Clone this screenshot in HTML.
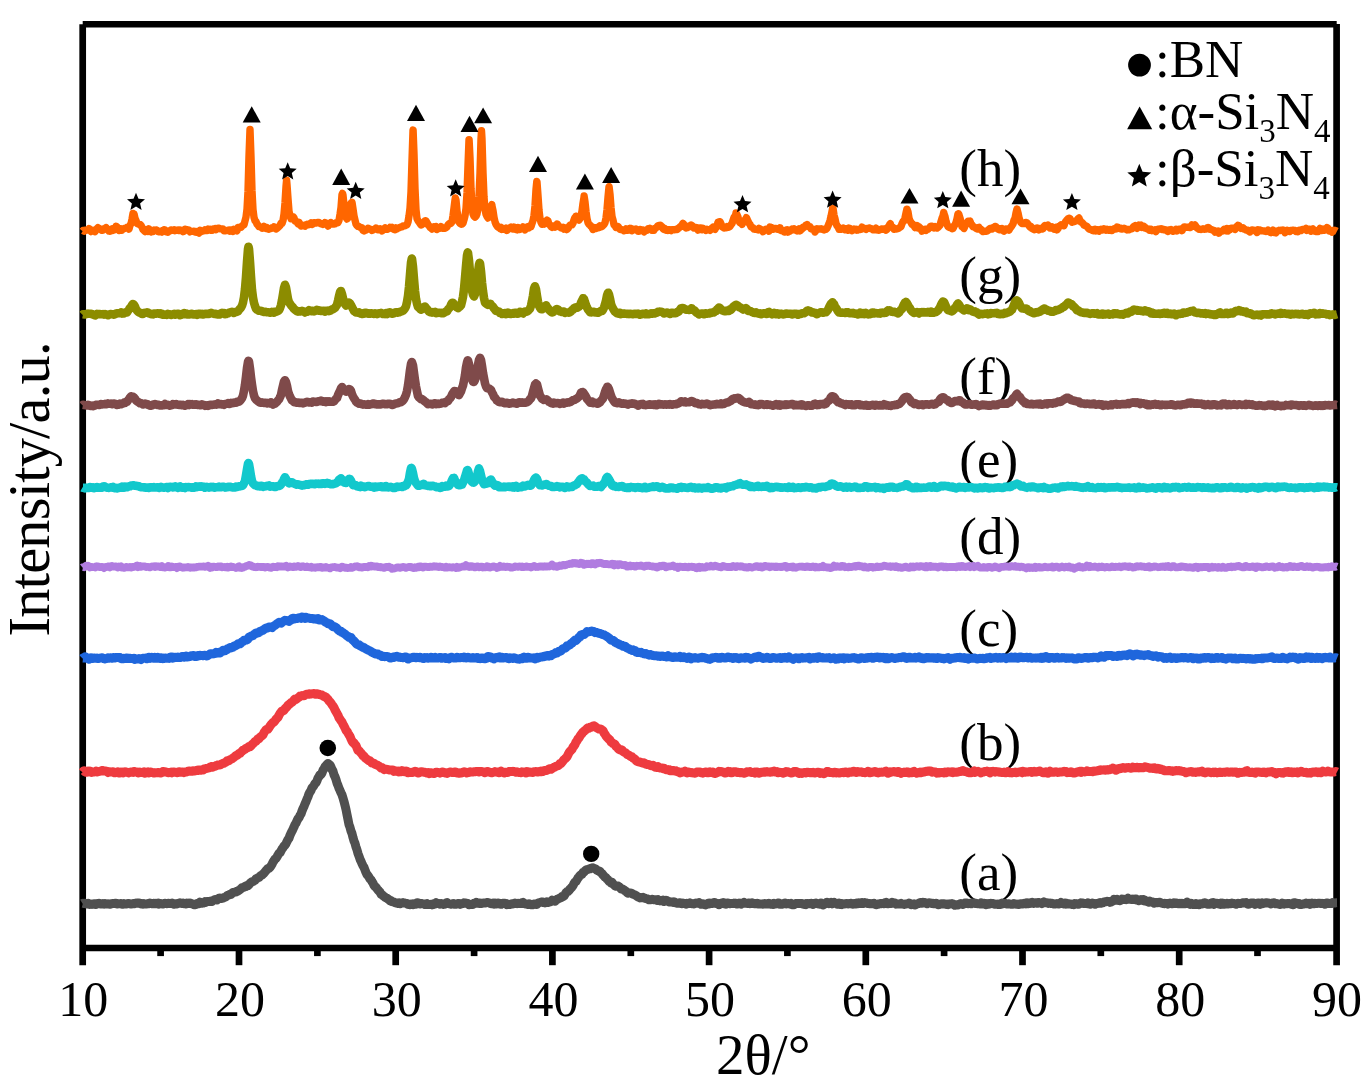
<!DOCTYPE html>
<html><head><meta charset="utf-8"><style>
html,body{margin:0;padding:0;background:#fff;}
svg{display:block;}
text{font-family:"Liberation Serif",serif;fill:#000;}
</style></head><body>
<svg width="1372" height="1086" viewBox="0 0 1372 1086">
<rect width="1372" height="1086" fill="#fff"/>
<g font-size="53"><text x="959.3" y="185.8">(h)</text><text x="959.3" y="292.9">(g)</text><text x="959.3" y="393.9">(f)</text><text x="959.3" y="476.8">(e)</text><text x="959.3" y="553.5">(d)</text><text x="959.3" y="646.3">(c)</text><text x="959.3" y="759.8">(b)</text><text x="959.3" y="889.6">(a)</text></g>

<g stroke="#000" stroke-width="6.7" fill="none" stroke-linecap="butt">
<line x1="82.7" y1="24.3" x2="82.7" y2="965.2"/>
<line x1="1336.6" y1="24.1" x2="1336.6" y2="965.2"/>
<line x1="82.7" y1="24.25" x2="1336.7" y2="24.25"/>
<line x1="82.7" y1="948" x2="1336.6" y2="948"/>
<line x1="160.6" y1="948" x2="160.6" y2="956.1"/><line x1="239.0" y1="948" x2="239.0" y2="965.2"/><line x1="317.4" y1="948" x2="317.4" y2="956.1"/><line x1="395.7" y1="948" x2="395.7" y2="965.2"/><line x1="474.1" y1="948" x2="474.1" y2="956.1"/><line x1="552.4" y1="948" x2="552.4" y2="965.2"/><line x1="630.8" y1="948" x2="630.8" y2="956.1"/><line x1="709.1" y1="948" x2="709.1" y2="965.2"/><line x1="787.4" y1="948" x2="787.4" y2="956.1"/><line x1="865.8" y1="948" x2="865.8" y2="965.2"/><line x1="944.1" y1="948" x2="944.1" y2="956.1"/><line x1="1022.5" y1="948" x2="1022.5" y2="965.2"/><line x1="1100.8" y1="948" x2="1100.8" y2="956.1"/><line x1="1179.2" y1="948" x2="1179.2" y2="965.2"/><line x1="1257.5" y1="948" x2="1257.5" y2="956.1"/>
</g>
<g fill="none" stroke-width="8" stroke-linejoin="round" stroke-linecap="butt">
<path d="M82.5 231.2 83 230.6 84 231.2 85 230.1 86 230.2 87 230.1 88 230.1 89 228.6 90 229.7 91 231.5 92 230.6 93 230.2 94 230.6 95 231.6 96 230.2 97 228.7 98 227.7 99 228.4 100 228.7 101 229.7 102 230.4 103 230.2 104 228.8 105 228.4 106 227.6 107 228.7 108 229.6 109 231.1 110 231.2 111 229.6 112 228.8 113 230.4 114 228.8 115 229.5 116 226.2 117 227.0 118 228.7 119 230.5 120 230.1 121 229.0 122 230.2 123 228.8 124 228.8 125 228.1 126 228.1 127 227.3 128 227.3 129 229.1 130 225.4 131 223.7 132 219.2 133 213.5 133.6 214.0 134 213.9 135 218.3 136 220.5 137 223.4 138 223.9 139 224.3 140 224.4 141 225.4 142 227.2 143 229.6 144 230.5 145 231.6 146 230.0 147 231.2 148 231.5 149 228.9 150 230.0 151 231.9 152 230.8 153 231.4 154 230.1 155 230.5 156 229.9 157 230.2 158 231.5 159 231.9 160 231.5 161 231.0 162 232.0 163 230.6 164 229.8 165 229.9 166 231.6 167 231.0 168 232.2 169 231.2 170 230.9 171 229.9 172 230.1 173 230.4 174 229.8 175 230.7 176 230.2 177 230.4 178 230.0 179 230.6 180 230.0 181 230.4 182 230.4 183 231.6 184 231.1 185 229.3 186 229.4 187 229.9 188 230.0 189 230.2 190 231.8 191 231.3 192 231.4 193 231.4 194 231.2 195 231.9 196 231.5 197 232.3 198 231.9 199 233.0 200 230.2 201 231.6 202 231.3 203 230.7 204 230.7 205 229.8 206 230.1 207 230.5 208 229.1 209 230.0 210 229.3 211 230.3 212 230.4 213 228.9 214 229.2 215 228.5 216 229.7 217 228.8 218 228.1 219 228.2 220 228.8 221 228.9 222 228.9 223 228.9 224 230.9 225 230.8 226 230.6 227 230.5 228 230.3 229 229.9 230 231.1 231 230.0 232 230.1 233 231.3 234 229.3 235 230.2 236 230.0 237 230.8 238 227.5 239 227.8 240 227.1 241 227.3 242 226.1 243 225.2 244 224.8 245 220.8 246 217.1 247 209.1 248 191.2 249 155.9 250 129.4 251 156.9 252 190.7 253 209.4 254 217.4 255 220.7 256 221.6 257 224.1 258 225.1 259 226.6 260 226.7 261 227.0 262 228.2 263 228.1 264 226.5 265 227.6 266 228.4 267 227.7 268 229.1 269 229.2 270 228.6 271 228.6 272 227.7 273 228.0 274 226.8 275 227.5 276 229.0 277 228.4 278 227.4 279 226.5 280 225.6 281 223.3 282 223.4 283 220.6 284 214.1 285 202.8 286 186.7 286.6 180.1 287 184.6 288 198.4 289 211.3 290 215.4 291 218.8 292 217.9 293 217.5 293.5 217.2 294 217.8 295 221.0 296 221.4 297 222.0 298 223.9 299 222.4 300 224.1 301 225.9 302 225.0 303 225.7 304 225.4 305 226.2 306 224.9 307 224.3 308 224.9 309 224.7 310 223.8 311 223.0 312 224.5 313 224.0 314 222.7 315 222.7 316 223.0 317 222.6 318 222.4 319 222.4 320 223.3 321 223.7 322 223.7 323 224.4 324 223.8 325 222.6 326 223.1 327 224.2 328 226.1 329 223.5 330 223.8 331 222.7 332 224.0 333 224.0 334 224.0 335 223.9 336 222.7 337 222.6 338 222.7 339 220.3 340 214.4 341 207.5 342 194.6 342.5 193.4 343 195.1 344 205.0 345 212.6 346 217.5 347 219.0 348 217.8 349 214.7 350 210.1 351 203.1 351.8 202.8 352 202.2 353 208.7 354 215.7 355 220.1 356 224.1 357 225.5 358 226.4 359 226.4 360 227.3 361 227.6 362 227.9 363 230.3 364 230.9 365 230.2 366 230.2 367 229.2 368 228.3 369 228.7 370 229.3 371 229.4 372 230.5 373 230.0 374 229.5 375 228.9 376 228.0 377 228.6 378 229.8 379 229.4 380 228.8 381 229.7 382 230.9 383 230.0 384 228.8 385 228.0 386 229.1 387 229.4 388 228.7 389 228.5 390 227.4 391 228.0 392 227.4 393 228.7 394 229.4 395 229.7 396 227.8 397 228.9 398 228.1 399 227.8 400 227.4 401 227.0 402 226.9 403 225.9 404 225.9 405 225.9 406 225.1 407 224.7 408 222.0 409 216.2 410 208.2 411 191.6 412 160.2 413 130.6 413.1 130.1 414 153.7 415 188.4 416 209.7 417 218.7 418 220.7 419 222.1 420 223.4 421 224.9 422 224.6 423 223.7 424 222.6 425 220.8 425.6 220.7 426 221.0 427 222.6 428 224.7 429 225.8 430 227.3 431 228.1 432 229.0 433 227.9 434 226.8 435 227.5 436 226.6 437 229.4 438 228.8 439 228.1 440 228.3 441 226.7 442 227.9 443 228.4 444 228.1 445 228.3 446 227.6 447 226.8 448 224.9 449 223.9 450 223.1 451 223.4 452 221.8 453 215.5 454 208.1 455 200.0 455.3 198.0 456 200.0 457 210.9 458 217.0 459 222.0 460 223.4 461 224.2 462 224.1 463 223.1 464 219.8 465 215.8 466 208.6 467 192.9 468 165.3 469 139.6 469.1 139.6 470 157.8 471 188.6 472 204.8 473 214.0 474 216.2 475 217.2 476 216.1 477 213.9 478 208.4 479 197.0 480 173.0 481 138.9 481.5 130.7 482 139.0 483 172.4 484 196.8 485 209.5 486 214.3 487 216.5 488 218.0 489 216.2 490 213.3 491 206.6 491.9 204.7 492 206.0 493 210.6 494 217.4 495 221.8 496 224.4 497 225.9 498 227.2 499 227.2 500 228.5 501 227.3 502 229.5 503 228.9 504 229.1 505 229.4 506 228.2 507 230.4 508 229.0 509 228.4 510 227.9 511 227.1 512 228.9 513 229.0 514 227.1 515 228.2 516 229.5 517 229.9 518 227.5 519 227.9 520 229.4 521 228.3 522 228.5 523 226.9 524 228.6 525 229.8 526 228.5 527 227.0 528 226.5 529 227.8 530 226.5 531 226.7 532 223.5 533 220.6 534 215.5 535 205.8 536 189.5 536.8 181.4 537 182.0 538 195.6 539 210.3 540 218.5 541 222.3 542 224.2 543 223.2 544 224.1 545 223.3 546 221.6 547 220.2 548 221.0 549 224.5 550 225.0 551 226.6 552 227.3 553 226.0 554 225.8 555 227.1 556 225.5 557 225.5 557.3 224.1 558 225.2 559 226.8 560 227.0 561 227.8 562 228.0 563 227.4 564 229.0 565 227.8 566 228.0 567 229.5 568 228.5 569 226.5 570 225.2 571 224.6 572 224.8 573 223.1 574 219.9 575 217.4 575.9 216.6 576 216.2 577 216.6 578 218.8 579 220.1 580 218.5 581 216.1 582 210.9 583 203.3 584 197.3 584.1 196.0 585 201.9 586 211.5 587 218.5 588 222.7 589 224.3 590 225.1 591 226.4 592 227.2 593 229.5 594 227.6 595 227.9 596 228.5 597 227.5 598 227.8 599 227.6 600 225.8 601 226.9 602 226.4 603 225.5 604 224.6 605 222.7 606 218.0 607 209.6 608 197.4 609 186.8 609.1 186.7 610 194.1 611 207.3 612 216.5 613 220.0 614 224.8 615 225.6 616 227.5 617 226.7 618 226.5 619 227.9 620 229.3 621 229.5 622 229.6 623 230.2 624 230.8 625 230.5 626 229.0 627 230.2 628 230.3 629 228.8 630 228.3 631 228.5 632 230.6 633 229.8 634 229.2 635 229.7 636 229.0 637 229.7 638 231.3 639 231.3 640 229.5 641 229.6 642 230.5 643 230.0 644 231.9 645 230.5 646 230.3 647 230.2 648 228.7 649 229.1 650 228.3 651 228.9 652 230.3 653 229.9 654 230.2 655 228.1 656 228.0 657 226.8 658 225.6 659 225.5 660 225.9 660.7 225.3 661 226.6 662 226.6 663 228.7 664 229.4 665 228.7 666 230.1 667 229.5 668 230.4 669 229.8 670 229.7 671 230.6 672 229.6 673 229.8 674 229.8 675 229.8 676 229.3 677 229.6 678 228.6 679 228.0 680 226.8 681 226.7 682 224.9 683 223.3 683.4 223.8 684 224.6 685 225.4 686 228.0 687 227.7 688 227.3 689 226.9 690 225.7 691 225.0 692 225.8 692.2 225.7 693 226.6 694 228.1 695 228.1 696 227.4 697 227.8 698 230.2 699 228.5 700 228.0 701 227.9 702 229.7 703 228.3 704 229.3 705 229.1 706 230.3 707 229.3 708 229.9 709 229.8 710 230.4 711 229.2 712 228.1 713 227.2 714 228.7 715 229.3 716 227.5 717 225.8 718 222.3 719 222.2 719.3 221.6 720 221.7 721 223.8 722 226.5 723 227.3 724 228.0 725 227.9 726 227.9 727 226.6 728 227.2 729 227.2 730 226.4 731 224.8 732 223.5 733 220.4 734 217.5 735 216.1 735.9 214.1 736 213.0 737 214.7 738 217.0 739 221.2 740 222.9 741 222.8 742 224.3 743 222.6 744 221.7 745 219.8 746 218.6 746.4 217.6 747 218.8 748 221.3 749 223.1 750 224.5 751 226.8 752 227.2 753 227.9 754 229.1 755 229.2 756 229.4 757 229.5 758 229.9 759 228.4 760 229.0 761 229.6 762 230.1 763 231.6 764 229.9 765 230.2 766 229.2 767 229.2 768 229.7 769 231.2 770 227.0 771 227.4 772 227.9 773 229.2 774 229.1 775 228.5 776 228.4 777 229.2 778 229.0 779 229.6 780 227.8 781 230.5 782 230.6 783 230.5 784 231.8 785 232.0 786 230.0 787 229.7 788 232.1 789 230.6 790 231.0 791 230.4 792 229.1 793 229.7 794 228.8 795 229.8 796 230.3 797 230.9 798 229.7 799 228.9 800 230.8 801 229.8 802 228.9 803 227.2 804 227.5 805 226.2 806 225.1 807 225.0 807.2 224.7 808 225.6 809 226.7 810 226.8 811 228.7 812 229.2 813 229.1 814 229.6 815 232.0 816 230.5 817 228.7 818 229.0 819 228.9 820 229.0 821 228.8 822 229.1 823 229.5 824 230.0 825 229.3 826 229.2 827 228.3 828 226.0 829 223.6 830 220.7 831 216.4 832 211.4 832.6 208.1 833 208.1 834 215.1 835 218.8 836 223.5 837 225.8 838 226.6 839 229.3 840 228.9 841 229.3 842 228.7 843 228.1 844 229.2 845 229.8 846 228.8 847 229.8 848 230.2 849 228.1 850 228.5 851 229.6 852 230.6 853 229.8 854 229.1 855 229.7 856 229.3 857 230.2 858 230.0 859 229.3 860 229.5 861 229.4 862 227.2 863 227.8 863.2 227.8 864 228.2 865 228.8 866 229.4 867 228.5 868 228.5 869 228.0 870 228.2 871 228.7 872 228.9 873 229.8 874 229.9 875 229.6 876 228.2 877 230.1 878 230.1 879 230.2 880 229.7 881 229.2 882 229.0 883 229.4 884 228.9 885 229.1 886 230.2 887 229.4 888 227.0 889 226.0 890 224.0 890.3 223.6 891 226.0 892 226.8 893 227.3 894 229.2 895 228.8 896 229.0 897 228.9 898 228.5 899 228.1 900 227.2 901 226.7 902 223.6 903 221.6 904 220.9 905 217.8 906 213.1 906.9 209.2 907 209.2 908 211.8 909 218.1 910 221.0 911 222.3 912 224.4 913 224.2 914 225.7 915 227.6 916 227.0 917 225.6 918 227.9 919 226.8 920 227.8 921 228.9 922 231.1 923 229.7 924 229.6 925 229.3 926 230.3 927 228.9 928 229.2 929 228.3 930 227.2 930.5 226.5 931 226.1 932 226.2 933 226.8 934 227.8 935 226.6 936 227.7 937 228.1 938 227.3 939 226.3 940 225.2 941 221.5 942 218.2 943 215.8 943.7 212.4 944 213.8 945 216.6 946 221.2 947 224.3 948 226.7 949 227.3 950 227.8 951 227.5 952 228.7 953 228.6 954 226.3 955 224.8 956 222.4 957 218.8 958 213.8 958.5 213.7 959 214.7 960 218.0 961 222.1 962 226.7 963 227.3 964 228.4 965 226.0 966 223.9 967 223.1 968 221.2 969 221.3 970 221.1 971 224.2 972 225.0 973 226.9 974 226.8 975 227.4 976 228.3 977 228.9 978 227.8 979 227.3 980 229.4 981 229.2 982 230.8 983 231.6 984 231.1 985 231.3 986 231.2 987 231.1 988 230.3 989 229.3 990 228.4 991 228.6 992 229.0 993 227.7 994 227.3 995 227.9 995.3 226.4 996 226.8 997 227.8 998 229.1 999 229.7 1000 228.9 1001 229.7 1002 228.7 1003 230.5 1004 231.2 1005 230.4 1006 229.2 1007 229.8 1008 228.8 1009 230.1 1010 228.2 1011 227.1 1012 225.5 1013 224.0 1014 220.2 1015 218.5 1016 213.0 1017 209.0 1017.1 209.3 1018 212.8 1019 217.7 1020 220.8 1021 222.6 1022 223.5 1023 223.3 1024 223.6 1025 223.5 1025.9 223.3 1026 222.5 1027 222.8 1028 224.0 1029 225.7 1030 227.0 1031 226.6 1032 228.4 1033 228.9 1034 229.7 1035 229.6 1036 228.3 1037 228.0 1038 228.1 1039 229.8 1040 228.7 1041 228.2 1042 229.1 1043 228.8 1044 226.3 1045 225.5 1046 225.8 1047 226.2 1048 225.2 1049 226.6 1050 228.0 1051 228.0 1052 227.0 1053 228.0 1054 229.3 1055 229.1 1056 227.5 1057 229.9 1058 228.5 1059 226.1 1060 226.1 1061 224.8 1062 225.6 1063 225.3 1064 225.7 1065 222.6 1066 221.0 1067 219.8 1068 218.8 1068.7 218.4 1069 219.4 1070 218.6 1071 220.5 1072 222.2 1073 221.7 1074 221.7 1075 221.2 1076 220.9 1077 220.2 1078 218.7 1079 218.0 1080 220.5 1081 222.1 1082 222.5 1083 223.4 1084 225.1 1085 225.5 1086 225.9 1087 226.5 1088 227.9 1089 228.9 1090 229.4 1091 229.4 1092 230.3 1093 230.8 1094 229.7 1095 229.3 1096 230.9 1097 229.8 1098 229.8 1099 231.2 1100 230.0 1101 229.3 1102 230.1 1103 229.7 1104 228.8 1105 229.3 1106 230.1 1107 229.3 1108 230.1 1109 230.3 1110 229.5 1111 230.5 1112 230.5 1113 229.4 1114 228.7 1115 229.1 1116 229.1 1117 227.1 1118 227.4 1119 228.2 1120 228.7 1121 228.3 1122 229.1 1123 228.7 1124 228.2 1125 228.8 1126 229.3 1127 229.9 1128 229.4 1129 229.7 1130 229.3 1131 229.0 1132 228.7 1133 227.4 1134 226.2 1135 225.7 1136 227.6 1137 228.3 1138 227.1 1139 225.2 1140 225.8 1141 225.1 1142 227.4 1143 226.1 1144 226.4 1144.8 227.9 1145 227.4 1146 228.1 1147 228.9 1148 228.9 1149 230.0 1150 229.2 1151 229.3 1152 230.7 1153 230.1 1154 230.8 1155 229.9 1156 231.5 1157 230.0 1158 229.3 1159 229.2 1160 229.0 1161 228.7 1162 229.6 1163 229.3 1164 229.7 1165 229.6 1166 230.1 1167 230.9 1168 231.4 1169 230.0 1170 229.8 1171 229.5 1172 230.9 1173 231.3 1174 230.9 1175 230.3 1176 229.3 1177 230.8 1178 229.9 1179 229.1 1180 229.3 1181 228.9 1182 230.6 1183 228.8 1184 226.9 1185 226.9 1186 227.3 1187 227.1 1188 227.3 1189 227.3 1190 227.6 1191 227.0 1192 224.9 1193 225.6 1194 226.2 1195 225.0 1196 226.5 1197 228.0 1198 228.4 1199 229.4 1200 229.2 1201 229.5 1202 229.2 1203 228.7 1204 229.2 1205 229.2 1206 229.0 1207 228.0 1208 227.4 1209 228.1 1210 229.4 1211 229.4 1212 229.8 1213 230.4 1214 230.5 1215 232.1 1216 231.0 1217 231.3 1218 231.0 1219 233.2 1220 232.0 1221 231.1 1222 231.1 1223 230.9 1224 229.5 1225 230.5 1226 230.9 1227 228.5 1228 231.0 1229 229.1 1230 229.5 1231 228.1 1232 228.2 1233 228.4 1234 228.0 1235 229.4 1236 227.2 1237 226.3 1238 225.3 1238.9 225.5 1239 226.1 1240 227.2 1241 228.4 1242 228.0 1243 227.7 1244 229.1 1245 229.3 1246 230.1 1247 230.1 1248 230.2 1249 231.4 1250 232.0 1251 231.0 1252 229.9 1253 230.2 1254 230.2 1255 230.5 1256 231.5 1257 232.4 1258 229.8 1259 230.5 1260 230.1 1261 230.8 1262 230.8 1263 230.9 1264 231.0 1265 231.2 1266 231.5 1267 231.2 1268 230.2 1269 231.2 1270 232.2 1271 232.7 1272 231.7 1273 230.1 1274 232.3 1275 232.7 1276 232.9 1277 230.9 1278 230.9 1279 230.3 1280 230.5 1281 230.1 1282 230.3 1283 229.9 1284 230.5 1285 232.6 1286 231.1 1287 230.4 1288 231.3 1289 230.7 1290 231.5 1291 230.5 1292 230.3 1293 230.1 1294 230.3 1295 230.5 1296 231.6 1297 231.6 1298 231.7 1299 230.4 1300 230.1 1301 230.5 1302 229.7 1303 229.4 1304 229.6 1305 229.1 1306 228.3 1307 230.3 1308 229.6 1309 229.2 1310 229.2 1311 231.2 1312 230.2 1313 229.0 1314 230.9 1315 230.5 1316 231.6 1317 231.2 1318 231.5 1319 230.1 1320 228.5 1321 229.1 1322 230.3 1323 229.1 1324 230.2 1325 229.0 1326 228.8 1327 227.6 1328 228.3 1329 231.1 1330 231.0 1331 231.1 1332 232.1 1333 230.5 1334 230.3 1335 230.5 1336 230.8 1337 231.3" stroke="#FF6600" stroke-width="7.4"/>
<path d="M82.5 314.7 83 314.2 84 314.4 85 314.5 86 314.1 87 313.8 88 313.6 89 313.8 90 313.8 91 313.9 92 314.0 93 314.4 94 315.0 95 315.5 96 314.9 97 313.8 98 314.3 99 314.0 100 314.1 101 314.3 102 314.3 103 314.1 104 314.6 105 314.1 106 314.4 107 314.8 108 315.2 109 314.6 110 314.2 111 314.0 112 314.3 113 314.4 114 314.7 115 314.2 116 313.5 117 313.4 118 313.3 119 313.3 120 313.3 121 312.5 122 313.5 123 313.0 124 313.4 125 312.6 126 312.1 127 312.4 128 310.8 129 309.5 130 308.0 131 307.1 132 305.0 132.8 304.1 133 304.1 134 304.8 135 306.6 136 309.2 137 310.6 138 311.7 139 312.5 140 312.7 141 313.1 142 314.0 143 314.0 144 313.2 145 312.7 146 312.8 147 312.3 148 312.6 149 313.4 150 313.7 151 314.2 152 314.2 153 314.4 154 313.6 155 313.7 156 313.6 157 313.5 158 313.3 159 313.6 160 313.3 161 314.1 162 313.8 163 314.7 164 314.8 165 314.7 166 314.5 167 314.8 168 313.9 169 314.3 170 314.2 171 314.9 172 314.5 173 314.3 174 313.8 175 314.7 176 314.3 177 313.8 178 313.8 179 314.0 180 315.2 181 314.9 182 314.1 183 313.8 184 313.2 185 314.2 186 313.7 187 314.5 188 314.1 189 314.5 190 314.3 191 313.8 192 313.8 193 314.5 194 314.3 195 314.4 196 314.1 197 314.8 198 314.0 199 313.8 200 313.9 201 314.3 202 313.9 203 314.5 204 314.3 205 313.7 206 313.7 207 314.0 208 313.7 209 314.0 210 313.3 211 312.9 212 313.2 213 313.4 214 313.9 215 313.9 216 313.8 217 314.3 218 314.5 219 314.5 220 314.4 221 313.4 222 312.9 223 313.4 224 313.1 225 314.1 226 314.0 227 313.4 228 313.4 229 312.7 230 312.5 231 312.2 232 311.9 233 312.2 234 312.9 235 312.1 236 312.2 237 311.7 238 311.3 239 309.8 240 308.7 241 307.7 242 305.7 243 302.5 244 297.3 245 289.1 246 277.0 247 262.0 248 249.2 248.5 246.7 249 248.9 250 261.7 251 276.9 252 289.8 253 297.6 254 302.8 255 306.0 256 308.7 257 309.7 258 310.2 259 310.8 260 310.8 261 310.7 262 311.3 263 311.6 264 312.0 265 312.0 266 311.9 267 312.3 268 312.2 269 312.5 270 312.6 271 312.6 272 311.9 273 312.1 274 312.6 275 311.8 276 311.6 277 311.6 278 310.9 279 310.2 280 308.3 281 305.2 282 300.1 283 294.1 284 288.0 285 284.7 286 287.4 287 293.2 288 298.9 289 302.4 290 303.7 291 305.3 292 306.4 293 307.5 294 308.9 295 309.8 296 310.3 297 311.4 298 311.6 299 311.2 300 311.5 301 311.3 302 310.8 303 311.3 304 311.5 305 312.5 306 311.7 307 311.8 308 311.5 309 310.3 310 310.9 311 311.1 312 310.8 313 311.0 314 311.5 315 311.0 316 310.7 317 309.8 318 310.3 319 310.7 320 310.6 321 311.0 322 311.0 323 310.9 324 310.7 325 311.6 326 310.7 327 310.8 328 310.5 329 311.1 330 310.9 331 310.3 332 309.3 333 309.2 334 308.5 335 307.9 336 306.3 337 304.8 338 300.8 339 296.3 340 292.2 340.7 291.0 341 291.0 342 294.1 343 298.3 344 302.7 345 304.2 346 305.5 347 304.8 348 303.5 349 302.6 349.6 303.0 350 303.5 351 305.2 352 307.0 353 309.1 354 311.0 355 311.6 356 312.5 357 312.5 358 312.6 359 312.3 360 313.1 361 313.7 362 314.0 363 313.4 364 313.7 365 312.8 366 312.9 367 313.0 368 313.7 369 313.3 370 313.7 371 313.4 372 313.4 373 313.8 374 313.9 375 313.3 376 313.9 377 314.1 378 313.6 379 313.2 380 313.3 381 312.9 382 313.4 383 314.0 384 313.9 385 314.1 386 313.2 387 314.1 388 312.9 389 312.5 390 312.4 391 312.9 392 313.7 393 313.5 394 313.3 395 312.7 396 312.2 397 312.3 398 312.6 399 312.4 400 311.9 401 311.4 402 311.2 403 310.7 404 309.7 405 308.4 406 306.4 407 302.0 408 296.0 409 286.9 410 274.5 411 262.6 411.8 258.5 412 258.7 413 266.8 414 279.2 415 290.7 416 298.9 417 303.7 418 306.9 419 307.8 420 308.8 421 309.6 422 309.1 423 308.0 424 307.0 425 306.6 426 308.0 427 309.0 428 310.4 429 311.5 430 312.1 431 312.4 432 312.6 433 312.1 434 312.3 435 311.9 436 313.2 437 312.9 438 312.9 439 312.7 440 312.7 441 313.2 442 312.9 443 313.3 444 312.7 445 312.1 446 311.5 447 311.4 448 309.5 449 308.4 450 307.3 451 304.7 452 303.0 452.5 302.8 453 302.8 454 304.2 455 305.7 456 306.4 457 307.4 458 308.1 459 307.1 460 306.5 461 305.3 462 301.5 463 296.9 464 289.1 465 277.9 466 266.2 467 255.4 467.7 252.4 468 252.9 469 260.5 470 272.3 471 283.1 472 290.7 473 294.6 474 296.4 475 294.2 476 289.2 477 282.0 478 272.4 479 264.8 479.6 262.9 480 263.3 481 271.2 482 282.5 483 291.2 484 298.0 485 302.5 486 303.6 487 304.3 488 304.9 489 304.7 490 304.7 490.4 303.9 491 304.8 492 305.9 493 306.8 494 308.4 495 309.5 496 310.9 497 310.9 498 311.6 499 311.5 500 313.0 501 313.2 502 313.9 503 313.2 504 313.2 505 313.1 506 314.1 507 313.3 508 312.6 509 313.1 510 314.0 511 314.0 512 313.7 513 313.1 514 313.6 515 312.8 516 312.9 517 313.7 518 313.7 519 313.0 520 311.9 521 312.0 522 312.8 523 313.4 524 312.0 525 311.6 526 311.8 527 311.5 528 310.9 529 309.8 530 308.8 531 305.7 532 301.0 533 295.7 534 288.7 535 286.2 536 289.3 537 295.8 538 301.8 539 305.8 540 307.8 541 309.2 542 309.2 543 308.6 544 307.8 545 306.4 546 305.3 546.5 306.0 547 307.2 548 308.1 549 309.8 550 310.9 551 311.7 552 312.4 553 312.3 554 311.3 555 310.3 556 309.5 557 309.1 558 309.6 559 310.6 560 311.5 561 311.4 562 312.0 563 311.7 564 311.5 565 312.8 566 312.5 567 312.5 568 312.5 569 312.6 570 312.1 571 311.3 572 310.0 573 309.7 574 308.3 575 307.7 576 307.4 577 307.8 578 307.2 579 306.7 580 305.4 581 302.7 582 300.6 583 298.6 583.2 298.2 584 299.0 585 302.2 586 305.1 587 307.6 588 309.5 589 310.7 590 312.2 591 312.4 592 312.1 593 311.9 594 311.8 595 312.5 596 312.2 597 312.7 598 312.7 599 312.1 600 311.6 601 310.8 602 311.0 603 309.9 604 307.6 605 304.4 606 300.6 607 295.5 608 292.8 608.2 292.7 609 294.5 610 298.7 611 303.8 612 306.7 613 308.4 614 310.3 615 311.7 616 312.5 617 313.2 618 313.6 619 312.7 620 312.8 621 314.1 622 313.5 623 313.5 624 313.7 625 313.6 626 313.8 627 313.9 628 313.7 629 314.1 630 313.7 631 314.0 632 314.0 633 314.2 634 313.9 635 313.9 636 313.9 637 313.8 638 313.6 639 314.1 640 314.7 641 314.4 642 314.0 643 313.8 644 313.9 645 314.2 646 313.5 647 314.2 648 314.3 649 314.2 650 313.9 651 313.4 652 313.7 653 313.3 654 313.5 655 313.4 656 312.9 657 312.8 658 311.8 659 311.9 659.4 311.7 660 311.6 661 311.8 662 312.0 663 312.4 664 313.4 665 313.0 666 313.0 667 312.6 668 313.0 669 313.4 670 313.9 671 312.7 672 312.7 673 313.0 674 313.2 675 313.2 676 313.0 677 312.1 678 312.1 679 311.2 680 309.7 681 308.3 682 308.0 683 308.0 684 308.6 685 309.1 686 309.8 687 309.7 688 309.7 689 310.0 690 309.6 691 309.2 691.6 308.2 692 309.0 693 309.9 694 310.1 695 310.9 696 312.3 697 313.0 698 313.5 699 314.3 700 313.8 701 313.6 702 313.6 703 313.6 704 314.2 705 313.5 706 313.3 707 313.6 708 313.5 709 313.5 710 312.9 711 312.9 712 312.5 713 312.5 714 312.4 715 311.3 716 311.1 717 309.5 718 308.6 719 307.6 720 308.0 721 309.6 722 310.3 723 310.6 724 311.0 725 311.2 726 311.2 727 310.5 728 310.6 729 310.9 730 309.4 731 309.8 732 308.6 733 307.1 734 306.1 735 305.5 736 304.8 736.1 305.7 737 305.3 738 305.7 739 307.2 740 307.4 741 307.9 742 308.7 743 309.5 744 308.9 745 308.8 746 308.1 747 309.2 748 310.9 749 310.7 750 310.9 751 311.4 752 312.1 753 312.3 754 312.8 755 313.0 756 312.4 757 313.2 758 313.5 759 313.6 760 313.3 761 314.2 762 314.0 763 313.5 764 313.3 765 313.4 766 313.9 767 313.9 768 312.3 769 311.9 770 313.3 771 313.3 772 314.3 773 313.6 774 313.0 775 313.8 776 314.2 777 313.4 778 313.5 779 314.5 780 313.7 781 314.0 782 313.9 783 314.4 784 314.3 785 313.9 786 313.5 787 313.6 788 313.8 789 313.7 790 313.7 791 313.7 792 314.4 793 314.0 794 313.9 795 314.0 796 313.8 797 314.0 798 314.7 799 314.1 800 314.0 801 314.0 802 313.2 803 313.2 804 313.2 805 312.6 806 311.8 807 310.8 808 310.4 809 310.8 810 311.1 811 311.9 812 312.5 813 312.2 814 312.8 815 312.8 816 313.8 817 314.2 818 313.5 819 313.0 820 312.5 821 312.3 822 312.3 823 312.7 824 312.5 825 312.0 826 312.2 827 311.0 828 309.9 829 307.5 830 305.5 831 303.8 832 302.9 832.5 302.4 833 303.2 834 304.0 835 306.7 836 307.9 837 309.5 838 311.2 839 312.4 840 312.3 841 312.8 842 312.6 843 312.7 844 312.7 845 313.0 846 312.4 847 312.3 848 312.4 849 313.1 850 313.3 851 313.0 852 313.1 853 312.9 854 313.5 855 313.6 856 313.5 857 314.1 858 314.5 859 313.7 860 312.8 861 313.8 862 314.0 863 313.2 864 314.1 865 314.0 866 313.0 867 313.5 868 314.4 869 314.3 870 314.2 871 313.9 872 312.5 873 312.5 874 313.4 875 313.0 876 313.1 877 313.3 878 313.4 879 313.2 880 313.6 881 312.8 882 312.6 883 313.0 884 312.6 885 312.9 886 312.7 887 311.3 888 310.4 889 310.6 889.6 310.4 890 310.6 891 311.5 892 311.8 893 311.9 894 311.7 895 312.0 896 312.4 897 312.2 898 313.4 899 312.5 900 311.0 901 309.7 902 309.1 903 306.3 904 304.2 905 302.6 906 301.9 907 303.3 908 305.1 909 307.1 910 308.3 911 310.2 912 311.3 913 312.1 914 312.9 915 312.6 916 312.3 917 312.0 918 312.6 919 313.4 920 312.4 921 312.5 922 312.1 923 312.4 924 312.0 925 312.5 926 312.3 927 312.4 928 311.9 929 312.3 930 312.6 931 311.5 932 312.6 933 312.7 934 312.6 935 312.2 936 312.0 937 311.3 938 310.5 939 309.0 940 307.4 941 305.0 942 303.0 943 301.6 943.3 302.3 944 302.0 945 304.3 946 306.5 947 308.6 948 310.1 949 310.4 950 310.5 951 311.1 952 311.4 953 310.5 954 309.5 955 307.8 956 307.1 957 304.8 958 303.4 958.4 304.3 959 304.5 960 306.3 961 308.3 962 308.9 963 309.6 964 310.4 965 309.9 966 309.3 967 308.3 968 308.9 969 310.0 970 309.3 971 310.0 972 311.0 973 311.7 974 312.0 975 311.5 976 312.6 977 312.4 978 313.8 979 314.5 980 313.8 981 313.9 982 314.1 983 314.1 984 313.9 985 313.6 986 313.8 987 313.3 988 314.3 989 313.7 990 314.0 991 313.1 992 313.4 993 313.2 994 313.3 995 313.0 996 313.2 997 312.8 998 314.0 999 314.0 1000 314.3 1001 313.8 1002 313.9 1003 314.1 1004 313.9 1005 312.8 1006 313.2 1007 312.8 1008 312.4 1009 311.7 1010 311.6 1011 310.5 1012 309.7 1013 307.4 1014 305.0 1015 302.2 1016 300.8 1016.7 300.4 1017 300.5 1018 301.3 1019 302.8 1020 305.3 1021 306.9 1022 308.4 1023 308.3 1024 308.6 1025 308.7 1026 308.6 1027 309.0 1028 310.4 1029 311.2 1030 311.1 1031 312.1 1032 312.5 1033 313.0 1034 313.3 1035 312.9 1036 312.3 1037 312.1 1038 312.4 1039 311.9 1040 311.8 1041 310.6 1042 310.5 1043 309.0 1044 308.7 1044.7 308.5 1045 308.9 1046 309.7 1047 309.8 1048 310.8 1049 310.7 1050 310.9 1051 311.8 1052 311.8 1053 311.7 1054 311.3 1055 311.1 1056 310.0 1057 310.3 1058 309.9 1059 309.6 1060 309.0 1061 308.6 1062 308.1 1063 306.9 1064 307.0 1065 305.7 1066 304.8 1067 304.0 1068 302.6 1069 302.7 1069.2 302.9 1070 303.6 1071 303.9 1072 304.7 1073 306.4 1074 306.7 1075 307.7 1076 309.0 1077 310.3 1078 310.2 1079 311.2 1080 311.6 1081 312.2 1082 312.4 1083 312.7 1084 312.9 1085 313.0 1086 312.7 1087 312.8 1088 313.2 1089 313.4 1090 313.9 1091 313.6 1092 313.3 1093 313.2 1094 313.3 1095 313.8 1096 313.6 1097 313.1 1098 314.4 1099 314.4 1100 314.4 1101 314.0 1102 313.7 1103 314.6 1104 313.9 1105 314.4 1106 314.0 1107 314.2 1108 313.7 1109 314.6 1110 314.6 1111 314.2 1112 314.1 1113 314.4 1114 313.3 1115 313.4 1116 313.9 1117 313.4 1118 314.0 1119 314.3 1120 314.4 1121 314.5 1122 314.0 1123 314.7 1124 314.2 1125 313.7 1126 313.0 1127 312.8 1128 313.3 1129 312.4 1130 311.6 1131 312.0 1132 311.3 1133 310.1 1134 309.5 1135 309.8 1136 310.2 1137 310.0 1138 310.8 1139 310.6 1140 310.6 1141 310.9 1142 311.0 1143 311.5 1144 311.1 1145 310.3 1146 311.0 1147 311.4 1148 311.2 1149 311.4 1150 312.5 1151 313.5 1152 312.5 1153 313.8 1154 313.8 1155 313.5 1156 313.8 1157 313.8 1158 313.6 1159 313.6 1160 314.0 1161 313.6 1162 313.7 1163 313.5 1164 312.8 1165 313.0 1166 313.7 1167 313.0 1168 314.0 1169 313.8 1170 313.6 1171 314.0 1172 314.3 1173 314.3 1174 313.6 1175 314.6 1176 315.2 1177 314.5 1178 314.1 1179 313.7 1180 314.0 1181 313.7 1182 313.8 1183 312.5 1184 312.6 1185 313.0 1186 312.7 1187 312.5 1188 312.1 1189 311.9 1190 311.4 1191 311.0 1192 311.1 1193 310.7 1194 311.8 1195 312.3 1196 312.6 1197 312.9 1198 312.7 1199 313.0 1200 313.0 1201 313.4 1202 313.3 1203 313.5 1204 313.7 1205 313.2 1206 314.1 1207 313.7 1208 313.6 1209 313.7 1210 314.2 1211 314.4 1212 314.3 1213 314.6 1214 314.9 1215 314.3 1216 314.8 1217 314.0 1218 314.1 1219 313.0 1220 312.4 1221 314.0 1222 313.7 1223 313.9 1224 313.6 1225 313.9 1226 312.8 1227 312.9 1228 314.1 1229 313.9 1230 313.4 1231 312.7 1232 313.3 1233 313.5 1234 312.1 1235 311.4 1236 310.9 1237 311.3 1238 310.9 1239 310.2 1240 310.6 1241 311.4 1242 311.1 1243 311.5 1244 311.9 1245 312.0 1246 311.7 1247 313.2 1248 313.1 1249 313.0 1250 313.9 1251 313.5 1252 314.3 1253 315.0 1254 315.2 1255 315.0 1256 314.8 1257 314.5 1258 314.8 1259 315.2 1260 314.7 1261 315.5 1262 314.5 1263 314.2 1264 314.2 1265 314.2 1266 314.3 1267 314.5 1268 314.2 1269 314.5 1270 314.3 1271 313.5 1272 313.4 1273 313.8 1274 313.9 1275 314.4 1276 314.1 1277 313.7 1278 313.6 1279 313.7 1280 313.9 1281 312.9 1282 313.5 1283 313.6 1284 313.4 1285 313.4 1286 313.8 1287 313.9 1288 313.7 1289 313.7 1290 314.5 1291 314.6 1292 313.9 1293 314.0 1294 314.1 1295 314.0 1296 313.7 1297 314.1 1298 313.9 1299 314.4 1300 314.4 1301 314.2 1302 313.8 1303 314.0 1304 314.7 1305 314.7 1306 314.1 1307 314.4 1308 315.1 1309 313.9 1310 313.4 1311 313.5 1312 313.6 1313 313.4 1314 312.8 1315 313.2 1316 314.4 1317 313.8 1318 314.2 1319 314.3 1320 313.0 1321 313.8 1322 313.7 1323 313.4 1324 313.6 1325 313.8 1326 314.0 1327 314.4 1328 314.3 1329 314.3 1330 315.1 1331 314.7 1332 314.6 1333 314.4 1334 314.6 1335 315.0 1336 314.5 1337 314.2" stroke="#8C8C00" stroke-width="8.6"/>
<path d="M82.5 405.3 83 404.8 84 405.0 85 405.0 86 405.3 87 405.5 88 404.8 89 405.4 90 405.8 91 406.0 92 405.5 93 406.1 94 405.8 95 405.5 96 404.9 97 404.8 98 404.8 99 404.9 100 404.9 101 404.0 102 404.4 103 404.3 104 404.3 105 403.9 106 404.2 107 404.0 108 403.4 109 403.8 110 403.8 111 403.5 112 404.2 113 403.7 114 403.6 115 403.7 116 404.5 117 404.9 118 404.8 119 404.3 120 403.6 121 404.2 122 403.5 123 403.6 124 402.7 125 403.0 126 402.0 127 401.8 128 400.3 129 399.0 130 397.6 131 396.3 131.9 396.4 132 396.6 133 396.8 134 397.5 135 398.7 136 400.5 137 401.2 138 401.9 139 402.5 140 403.3 141 403.2 142 403.5 143 404.5 144 404.1 145 403.6 146 403.9 147 404.6 148 404.4 149 405.1 150 405.8 151 405.7 152 405.4 153 404.7 154 404.4 155 404.1 156 404.4 157 404.9 158 404.7 159 405.0 160 405.4 161 405.4 162 405.4 163 405.1 164 405.1 165 404.1 166 404.9 167 405.0 168 404.8 169 405.3 170 405.7 171 405.2 172 405.2 173 404.1 174 404.4 175 404.3 176 404.1 177 404.5 178 404.7 179 404.9 180 405.0 181 404.8 182 405.2 183 404.9 184 405.6 185 405.6 186 405.3 187 405.1 188 404.2 189 405.0 190 404.0 191 404.3 192 404.1 193 404.7 194 404.6 195 404.7 196 404.4 197 404.5 198 404.9 199 404.9 200 405.2 201 405.2 202 404.4 203 404.9 204 405.0 205 405.9 206 405.7 207 405.3 208 405.8 209 405.3 210 404.7 211 404.8 212 405.0 213 404.7 214 404.6 215 404.4 216 404.6 217 404.5 218 403.5 219 404.2 220 404.3 221 404.0 222 404.4 223 404.2 224 404.8 225 404.1 226 403.8 227 403.8 228 403.2 229 403.9 230 403.9 231 402.8 232 403.3 233 403.1 234 402.6 235 402.8 236 402.8 237 401.8 238 401.9 239 401.6 240 400.8 241 399.7 242 398.2 243 395.6 244 390.9 245 384.7 246 376.7 247 367.9 248 361.9 248.5 360.8 249 361.5 250 368.5 251 377.3 252 384.7 253 391.1 254 395.5 255 398.2 256 399.6 257 400.4 258 401.3 259 401.8 260 402.6 261 402.8 262 402.3 263 402.8 264 402.9 265 402.8 266 402.8 267 403.4 268 403.1 269 402.8 270 403.3 271 402.3 272 403.4 273 404.6 274 403.9 275 403.8 276 402.6 277 401.8 278 400.3 279 399.5 280 397.3 281 394.8 282 390.0 283 385.6 284 381.5 285 380.2 286 382.1 287 385.9 288 391.0 289 394.2 290 396.6 291 398.5 292 400.4 293 400.9 294 402.1 295 402.0 296 402.6 297 402.8 298 402.5 299 403.0 300 402.8 301 402.7 302 403.0 303 403.5 304 403.0 305 402.6 306 402.3 307 401.7 308 402.1 309 402.4 310 402.3 311 402.3 312 402.6 313 401.5 314 401.7 315 401.8 316 401.9 317 401.9 318 401.2 319 401.2 320 401.2 321 400.7 322 401.2 323 401.7 324 401.8 325 401.3 326 402.1 327 401.4 328 401.8 329 401.3 330 401.7 331 401.8 332 401.6 333 401.7 334 401.3 335 400.0 336 398.8 337 398.1 338 395.1 339 392.9 340 390.8 341 388.3 341.7 387.7 342 387.0 343 388.2 344 390.1 345 390.5 346 391.6 347 391.5 348 390.6 349 389.2 349.6 389.4 350 389.5 351 391.0 352 394.3 353 396.4 354 398.3 355 399.6 356 401.6 357 402.5 358 402.7 359 403.7 360 403.3 361 403.8 362 404.2 363 404.6 364 404.4 365 404.5 366 404.6 367 404.7 368 404.1 369 404.7 370 404.5 371 404.2 372 404.0 373 403.6 374 403.5 375 404.2 376 404.1 377 404.5 378 404.2 379 404.5 380 404.4 381 404.4 382 403.9 383 404.0 384 403.8 385 404.1 386 404.0 387 404.2 388 403.8 389 403.7 390 403.7 391 404.3 392 405.0 393 404.8 394 404.2 395 403.8 396 403.6 397 403.2 398 403.3 399 402.6 400 402.1 401 402.2 402 401.4 403 400.6 404 399.2 405 397.1 406 394.8 407 391.0 408 385.5 409 378.2 410 370.1 411 363.9 411.8 362.0 412 362.3 413 365.3 414 372.9 415 380.1 416 386.5 417 391.4 418 396.0 419 397.4 420 398.1 421 399.1 422 399.1 423 399.9 424 400.7 425 401.6 426 402.2 427 403.2 428 404.2 429 403.9 430 403.7 431 404.0 432 404.5 433 403.9 434 403.5 435 403.3 436 404.1 437 404.0 438 403.5 439 403.9 440 403.8 441 403.6 442 402.9 443 402.8 444 402.4 445 403.0 446 402.1 447 401.2 448 401.1 449 399.3 450 398.4 451 397.0 452 394.7 453 392.9 454 391.5 454.4 391.1 455 391.2 456 391.3 457 392.5 458 393.5 459 395.1 460 393.2 461 391.4 462 388.2 463 385.5 464 380.7 465 375.0 466 367.4 467 362.5 467.7 360.3 468 360.5 469 364.1 470 369.0 471 375.0 472 379.0 473 381.8 474 382.0 475 379.9 476 377.0 477 371.5 478 364.8 479 359.8 480 357.8 481 360.0 482 366.0 483 372.9 484 378.1 485 383.4 486 386.3 487 388.1 488 388.4 489 388.5 490 389.1 491 390.0 492 392.4 493 394.1 494 396.8 495 397.7 496 399.0 497 400.6 498 401.3 499 402.0 500 402.1 501 401.8 502 401.7 503 402.6 504 403.0 505 403.3 506 402.9 507 402.9 508 403.0 509 403.7 510 403.3 511 403.5 512 403.0 513 402.6 514 403.1 515 403.0 516 403.5 517 403.7 518 402.9 519 402.3 520 402.5 521 402.8 522 402.4 523 402.7 524 402.7 525 402.6 526 402.6 527 402.2 528 401.7 529 400.6 530 399.1 531 398.4 532 395.9 533 391.9 534 388.2 535 384.6 536 383.6 537 384.4 538 388.4 539 392.2 540 395.7 541 397.1 542 398.7 543 399.4 544 400.0 545 399.5 546 399.5 546.4 399.4 547 399.8 548 400.7 549 401.8 550 402.2 551 403.1 552 402.9 553 403.6 554 402.7 555 403.2 556 403.3 557 403.1 558 403.1 559 403.5 560 404.0 561 403.3 562 403.3 563 402.6 564 403.5 565 402.9 566 402.7 567 402.6 568 402.3 569 402.4 570 402.1 571 401.7 572 400.9 573 400.1 574 400.1 575 399.7 576 398.9 577 398.5 578 397.5 579 396.7 580 395.1 581 392.8 582 392.2 582.6 392.0 583 392.1 584 393.6 585 395.1 586 396.7 587 398.9 588 400.1 589 401.2 590 402.6 591 402.3 592 401.6 593 403.1 594 403.0 595 402.8 596 403.0 597 403.6 598 403.6 599 403.0 600 402.5 601 400.7 602 399.8 603 398.4 604 395.2 605 391.9 606 389.1 607 388.0 607.3 386.7 608 387.3 609 389.2 610 392.5 611 395.6 612 398.2 613 399.7 614 401.4 615 402.7 616 402.6 617 403.3 618 403.1 619 402.4 620 403.0 621 403.4 622 403.8 623 403.4 624 403.5 625 403.6 626 403.8 627 404.1 628 404.6 629 404.0 630 403.8 631 403.8 632 403.2 633 403.6 634 403.5 635 403.8 636 404.3 637 404.6 638 405.7 639 404.7 640 404.3 641 404.0 642 404.4 643 403.9 644 405.0 645 405.0 646 405.1 647 404.9 648 404.7 649 404.5 650 404.3 651 404.6 652 404.5 653 404.5 654 404.9 655 404.3 656 405.3 657 405.2 658 404.2 659 403.8 660 404.1 661 404.5 662 404.2 663 404.6 664 404.6 665 404.2 666 404.6 667 404.6 668 404.4 669 404.6 670 404.0 671 404.3 672 404.7 673 404.5 674 404.2 675 404.2 676 404.2 677 403.6 678 403.6 679 403.0 680 402.6 681 401.2 682 401.4 683 401.8 684 402.1 685 401.4 686 402.5 687 402.2 688 402.2 689 402.3 690 402.0 691 401.2 692 401.0 693 401.5 694 402.0 695 403.1 696 403.0 697 403.1 698 403.8 699 404.2 700 404.4 701 404.6 702 403.9 703 404.2 704 404.3 705 404.2 706 403.9 707 403.5 708 404.0 709 404.7 710 405.2 711 404.8 712 404.8 713 404.5 714 404.5 715 404.4 716 404.4 717 403.8 718 404.3 719 404.2 720 404.1 721 403.4 722 404.2 723 403.8 724 404.0 725 403.2 726 402.6 727 402.4 728 402.4 729 401.7 730 401.3 731 400.7 732 399.5 733 398.8 734 399.1 735 398.2 736 398.4 737 398.0 738 397.9 739 398.2 740 398.9 741 400.5 742 401.0 743 401.6 744 402.0 745 402.5 746 402.5 747 402.6 748 402.7 749 401.9 750 402.8 751 404.2 752 404.1 753 404.4 754 404.6 755 404.4 756 404.9 757 404.7 758 405.2 759 404.9 760 404.1 761 404.0 762 404.0 763 404.4 764 404.9 765 404.8 766 404.4 767 404.9 768 404.4 769 404.6 770 404.9 771 405.0 772 405.3 773 405.7 774 405.4 775 404.8 776 404.2 777 405.1 778 405.4 779 404.6 780 405.7 781 404.6 782 404.9 783 404.9 784 404.8 785 404.4 786 405.0 787 404.4 788 404.6 789 404.5 790 404.5 791 404.0 792 404.2 793 404.1 794 405.3 795 404.9 796 404.8 797 405.2 798 405.0 799 405.2 800 404.7 801 405.3 802 404.4 803 404.9 804 405.5 805 405.5 806 405.9 807 405.5 808 405.3 809 405.4 810 405.8 811 405.6 812 405.7 813 404.8 814 404.1 815 403.7 816 404.4 817 405.1 818 404.4 819 404.8 820 404.0 821 404.0 822 404.1 823 403.8 824 404.4 825 404.1 826 403.6 827 402.0 828 401.2 829 400.6 830 399.0 831 397.0 832 396.2 832.5 396.2 833 396.4 834 397.0 835 398.1 836 400.3 837 401.0 838 402.2 839 402.1 840 402.9 841 403.4 842 403.4 843 404.1 844 404.2 845 405.0 846 404.1 847 404.2 848 404.3 849 404.6 850 404.7 851 404.3 852 405.2 853 404.8 854 405.1 855 405.3 856 404.4 857 404.5 858 404.4 859 404.3 860 405.1 861 404.8 862 405.2 863 405.3 864 405.5 865 405.2 866 404.9 867 405.7 868 405.4 869 405.7 870 405.6 871 405.4 872 405.0 873 404.8 874 405.5 875 405.6 876 404.8 877 405.2 878 405.4 879 405.4 880 405.1 881 405.4 882 405.5 883 405.4 884 404.2 885 404.8 886 404.9 887 405.5 888 405.4 889 405.7 890 405.7 891 406.0 892 405.3 893 405.3 894 405.3 895 404.8 896 404.6 897 405.0 898 404.3 899 404.1 900 403.3 901 402.3 902 400.9 903 399.4 904 398.0 905 397.3 906 397.2 907 396.9 908 397.3 909 398.9 910 399.8 911 401.6 912 402.6 913 403.0 914 404.0 915 403.1 916 403.7 917 404.0 918 404.9 919 404.9 920 404.6 921 404.6 922 404.3 923 405.2 924 404.8 925 404.3 926 404.5 927 404.3 928 404.5 929 404.6 930 404.5 931 404.2 932 403.8 933 404.5 934 404.6 935 404.4 936 403.4 937 402.6 938 402.1 939 401.8 940 399.3 941 398.2 942 397.7 943 397.2 943.3 397.2 944 397.7 945 398.9 946 399.5 947 400.1 948 400.3 949 401.9 950 402.1 951 402.9 952 402.9 953 402.2 954 401.8 955 401.1 956 401.0 957 401.2 958 401.2 958.4 401.1 959 400.3 960 400.2 961 401.8 962 402.1 963 402.6 964 403.6 965 404.4 966 404.3 967 404.4 968 404.1 969 404.3 970 404.0 971 404.6 972 404.5 973 404.6 974 404.4 975 404.6 976 404.0 977 404.6 978 405.4 979 406.0 980 405.2 981 405.4 982 404.7 983 404.5 984 405.1 985 404.8 986 405.4 987 405.0 988 405.7 989 405.2 990 405.8 991 405.5 992 405.1 993 404.6 994 404.5 995 405.3 996 405.0 997 405.2 998 404.3 999 404.1 1000 403.5 1001 403.7 1002 403.8 1003 403.4 1004 403.6 1005 403.8 1006 403.5 1007 403.7 1008 403.1 1009 402.6 1010 402.4 1011 401.2 1012 400.4 1013 398.3 1014 397.5 1015 396.6 1016 395.0 1016.7 394.0 1017 393.8 1018 395.2 1019 396.4 1020 397.1 1021 398.8 1022 400.0 1023 401.2 1024 401.8 1025 403.2 1026 402.9 1027 403.9 1028 403.9 1029 404.1 1030 404.3 1031 403.8 1032 403.8 1033 404.4 1034 404.3 1035 404.1 1036 404.2 1037 403.8 1038 403.9 1039 404.4 1040 403.7 1041 404.6 1042 404.6 1043 404.5 1044 404.1 1045 403.6 1046 403.5 1047 404.2 1048 403.3 1049 403.5 1050 403.3 1051 403.2 1052 403.7 1053 403.1 1054 402.8 1055 403.1 1056 402.8 1057 402.2 1058 401.6 1059 401.5 1060 401.9 1061 401.8 1062 400.6 1063 400.3 1064 399.4 1065 399.1 1066 398.0 1067 397.7 1068 397.8 1069 398.6 1070 398.7 1071 399.9 1072 400.3 1073 400.5 1074 401.0 1075 400.9 1076 401.2 1077 401.6 1078 401.5 1079 401.5 1080 403.1 1081 403.4 1082 403.4 1083 403.5 1084 403.6 1085 404.0 1086 404.0 1087 403.6 1088 403.7 1089 403.8 1090 404.2 1091 404.0 1092 404.3 1093 403.7 1094 403.5 1095 404.5 1096 404.6 1097 404.5 1098 404.4 1099 404.0 1100 404.7 1101 404.2 1102 404.2 1103 405.9 1104 404.9 1105 405.4 1106 404.9 1107 405.2 1108 405.6 1109 405.4 1110 405.0 1111 404.4 1112 405.2 1113 404.5 1114 404.3 1115 404.3 1116 403.8 1117 404.6 1118 404.5 1119 404.4 1120 404.6 1121 404.4 1122 404.0 1123 404.1 1124 404.1 1125 404.1 1126 404.1 1127 403.8 1128 403.2 1129 404.0 1130 403.3 1131 402.8 1132 402.7 1133 402.4 1134 402.6 1135 402.4 1136 403.0 1137 402.4 1138 402.5 1139 402.9 1140 404.1 1141 403.0 1142 403.5 1143 403.2 1144 403.5 1145 403.9 1146 403.9 1147 405.0 1148 405.3 1149 404.5 1150 405.2 1151 404.6 1152 404.4 1153 404.7 1154 404.4 1155 403.9 1156 404.6 1157 404.7 1158 404.4 1159 404.5 1160 405.1 1161 405.2 1162 404.6 1163 404.7 1164 404.7 1165 405.0 1166 404.8 1167 404.9 1168 404.8 1169 404.7 1170 404.7 1171 404.3 1172 404.2 1173 404.8 1174 405.2 1175 405.4 1176 405.5 1177 405.0 1178 404.7 1179 404.7 1180 405.2 1181 405.3 1182 404.6 1183 404.2 1184 404.5 1185 404.1 1186 404.1 1187 404.1 1188 402.7 1189 402.9 1190 402.6 1191 403.6 1192 402.8 1193 403.0 1194 403.6 1195 403.7 1196 403.7 1197 403.3 1198 403.6 1199 403.5 1200 403.8 1201 403.6 1202 403.7 1203 404.7 1204 404.2 1205 405.3 1206 405.1 1207 404.7 1208 404.1 1209 404.7 1210 405.2 1211 404.5 1212 405.1 1213 404.3 1214 404.5 1215 404.3 1216 404.8 1217 405.5 1218 405.1 1219 405.3 1220 405.2 1221 405.4 1222 403.9 1223 403.6 1224 403.9 1225 403.6 1226 404.8 1227 405.2 1228 404.6 1229 404.1 1230 404.6 1231 405.1 1232 404.9 1233 404.7 1234 404.0 1235 404.4 1236 404.9 1237 405.1 1238 404.5 1239 404.4 1240 404.4 1241 404.6 1242 404.9 1243 404.8 1244 404.8 1245 404.9 1246 403.9 1247 404.8 1248 404.4 1249 404.1 1250 404.8 1251 404.7 1252 404.3 1253 405.2 1254 405.0 1255 405.3 1256 405.7 1257 405.6 1258 405.6 1259 405.1 1260 405.2 1261 405.3 1262 405.7 1263 406.0 1264 405.5 1265 406.1 1266 405.9 1267 405.5 1268 405.0 1269 404.6 1270 405.4 1271 404.8 1272 405.5 1273 404.6 1274 405.2 1275 406.2 1276 405.5 1277 404.9 1278 405.8 1279 405.8 1280 405.9 1281 406.2 1282 405.9 1283 405.8 1284 405.9 1285 405.6 1286 404.9 1287 405.3 1288 405.2 1289 405.2 1290 404.9 1291 405.5 1292 404.5 1293 404.9 1294 405.0 1295 405.0 1296 405.0 1297 405.2 1298 405.3 1299 405.8 1300 405.2 1301 405.5 1302 405.3 1303 405.7 1304 405.4 1305 405.3 1306 405.8 1307 405.2 1308 405.2 1309 404.9 1310 405.4 1311 405.3 1312 405.6 1313 405.9 1314 405.6 1315 405.4 1316 405.7 1317 405.6 1318 405.9 1319 405.2 1320 405.4 1321 405.9 1322 405.4 1323 405.9 1324 405.7 1325 405.0 1326 405.2 1327 405.3 1328 405.2 1329 405.0 1330 405.4 1331 405.4 1332 405.2 1333 405.3 1334 405.0 1335 404.5 1336 405.0 1337 404.9" stroke="#7F4A4A" stroke-width="8.6"/>
<path d="M82.5 487.5 83 487.8 84 487.8 85 488.3 86 487.8 87 488.0 88 487.8 89 488.0 90 487.1 91 487.5 92 487.8 93 487.3 94 488.2 95 487.9 96 487.4 97 487.0 98 487.6 99 487.7 100 487.6 101 487.8 102 487.7 103 486.6 104 486.2 105 486.7 106 487.3 107 487.6 108 487.7 109 488.0 110 487.5 111 487.4 112 487.6 113 487.0 114 487.8 115 488.2 116 487.8 117 488.4 118 488.1 119 487.8 120 487.4 121 487.6 122 486.8 123 487.6 124 487.6 125 486.6 126 487.0 127 487.3 128 486.7 129 486.4 130 486.3 131 485.5 132 485.6 133 485.2 134 485.5 135 485.7 136 485.8 137 486.0 138 486.1 139 486.3 140 487.0 141 487.1 142 487.3 143 487.3 144 487.4 145 487.2 146 487.8 147 487.7 148 487.5 149 488.0 150 487.2 151 487.3 152 487.4 153 487.4 154 487.0 155 487.5 156 487.5 157 487.4 158 487.2 159 487.9 160 487.4 161 486.9 162 487.4 163 487.5 164 487.7 165 487.4 166 487.2 167 487.0 168 488.1 169 487.1 170 486.7 171 487.0 172 487.0 173 487.5 174 486.8 175 486.4 176 487.3 177 487.4 178 487.9 179 486.6 180 486.4 181 487.3 182 487.0 183 487.8 184 487.5 185 488.0 186 487.0 187 487.3 188 487.0 189 487.0 190 487.3 191 487.2 192 487.8 193 487.4 194 487.6 195 487.5 196 486.5 197 487.1 198 486.5 199 486.7 200 486.6 201 486.3 202 486.7 203 486.6 204 486.8 205 487.7 206 487.2 207 486.9 208 487.1 209 487.6 210 487.1 211 486.8 212 487.1 213 486.8 214 487.5 215 487.7 216 487.2 217 487.2 218 487.1 219 486.6 220 487.2 221 487.2 222 486.8 223 487.0 224 486.9 225 487.6 226 487.4 227 487.3 228 486.7 229 486.7 230 486.8 231 487.0 232 487.3 233 487.5 234 487.5 235 487.4 236 486.6 237 486.9 238 486.5 239 486.4 240 486.4 241 485.9 242 485.9 243 485.2 244 483.3 245 481.1 246 475.3 247 469.1 248 463.8 248.5 463.1 249 464.0 250 469.7 251 476.1 252 480.8 253 483.3 254 484.4 255 485.3 256 485.2 257 485.9 258 486.3 259 486.0 260 486.4 261 485.7 262 485.9 263 486.8 264 486.5 265 486.4 266 486.2 267 485.9 268 486.0 269 485.4 270 486.7 271 486.4 272 486.3 273 486.4 274 486.9 275 486.5 276 486.9 277 486.3 278 485.9 279 485.9 280 485.5 281 484.6 282 482.7 283 481.9 284 478.9 285 477.2 286 478.8 287 481.0 288 482.4 289 483.3 290 483.0 291 482.7 291.4 482.3 292 482.3 293 483.2 294 483.5 295 483.9 296 484.6 297 484.3 298 484.2 299 484.8 300 484.8 301 485.4 302 485.6 303 485.1 304 485.2 305 484.8 306 484.4 307 484.3 308 484.7 309 484.1 310 484.0 311 483.8 312 483.9 313 483.7 314 484.2 315 484.1 316 483.5 317 483.8 318 483.6 319 484.0 320 484.0 321 483.6 322 483.9 323 483.3 324 483.2 325 483.8 326 483.3 327 482.9 328 483.6 329 483.4 330 484.0 331 484.3 332 484.2 333 484.1 334 483.8 335 483.5 336 483.3 337 482.2 338 482.0 339 479.7 340 479.0 340.8 478.6 341 478.4 342 479.6 343 481.2 344 482.6 345 482.6 346 482.9 347 481.9 348 479.8 349 479.0 349.4 478.9 350 479.2 351 480.7 352 483.1 353 485.0 354 484.5 355 485.3 356 485.4 357 486.3 358 486.5 359 486.7 360 487.1 361 485.7 362 486.3 363 486.2 364 487.0 365 487.1 366 486.6 367 486.4 368 486.0 369 486.1 370 486.5 371 486.7 372 486.9 373 486.9 374 487.5 375 486.6 376 486.6 377 487.1 378 486.9 379 486.5 380 486.5 381 486.4 382 487.2 383 487.2 384 486.6 385 487.1 386 486.2 387 487.2 388 487.4 389 487.0 390 487.2 391 486.9 392 487.3 393 487.9 394 488.0 395 488.0 396 487.1 397 486.6 398 487.0 399 486.8 400 486.8 401 486.5 402 487.0 403 486.1 404 486.5 405 485.6 406 485.4 407 484.2 408 481.7 409 478.9 410 472.6 411 468.1 411.5 467.9 412 469.1 413 473.0 414 478.0 415 481.3 416 482.9 417 484.3 418 485.6 419 485.7 420 485.5 421 485.2 422 484.5 423 484.0 423.6 483.8 424 484.0 425 485.3 426 485.4 427 485.6 428 485.9 429 485.9 430 486.2 431 486.2 432 485.8 433 485.9 434 486.2 435 486.2 436 487.1 437 487.0 438 487.1 439 487.2 440 487.9 441 487.8 442 486.1 443 486.8 444 486.6 445 486.8 446 485.7 447 486.3 448 486.5 449 486.0 450 484.6 451 482.5 452 480.1 453 478.0 453.5 478.0 454 477.9 455 480.5 456 481.7 457 483.5 458 484.8 459 485.1 460 485.1 461 484.1 462 484.7 463 482.7 464 480.5 465 477.0 466 473.9 467 470.4 467.5 470.0 468 470.8 469 474.3 470 477.9 471 480.4 472 481.9 473 482.5 474 482.6 475 481.2 476 478.9 477 476.7 478 471.4 479 468.4 479.1 468.8 480 471.0 481 475.2 482 479.4 483 482.3 484 484.2 485 483.8 486 483.7 487 483.3 488 483.2 489 481.5 490 480.1 490.8 479.6 491 479.6 492 481.5 493 483.1 494 484.7 495 485.7 496 485.6 497 485.1 498 485.4 499 487.1 500 486.6 501 486.8 502 487.3 503 487.3 504 486.7 505 487.2 506 486.8 507 486.8 508 486.5 509 487.0 510 486.5 511 486.9 512 487.3 513 486.3 514 487.6 515 486.7 516 486.0 517 487.3 518 487.7 519 487.0 520 487.0 521 487.3 522 486.8 523 485.7 524 486.2 525 486.4 526 485.7 527 485.4 528 484.9 529 485.4 530 485.8 531 485.6 532 483.9 533 482.3 534 480.1 535 478.2 535.6 478.1 536 477.5 537 478.8 538 481.7 539 484.0 540 485.3 541 485.1 542 485.4 543 485.0 544 484.5 545 484.5 546 484.7 546.5 484.0 547 484.4 548 485.1 549 485.7 550 485.7 551 486.1 552 486.9 553 486.9 554 486.8 555 486.9 556 486.7 557 486.1 558 486.6 559 486.5 560 487.3 561 486.9 562 487.0 563 486.9 564 487.5 565 487.9 566 487.1 567 486.3 568 486.8 569 487.3 570 486.8 571 486.8 572 487.0 573 485.9 574 485.5 575 485.3 576 484.6 577 484.0 578 482.6 579 481.2 580 479.8 581 478.8 582 478.6 582.2 478.4 583 479.3 584 479.2 585 481.1 586 481.9 587 482.7 588 484.2 589 484.9 590 485.9 591 485.8 592 485.8 593 485.6 594 486.7 595 486.4 596 486.8 597 486.8 598 486.2 599 486.0 600 486.4 601 487.0 602 485.4 603 484.6 604 483.1 605 481.8 606 478.7 607 477.2 607.4 476.9 608 477.8 609 479.2 610 481.2 611 483.0 612 485.3 613 486.0 614 486.3 615 485.8 616 486.9 617 486.7 618 486.9 619 486.9 620 486.2 621 486.2 622 486.1 623 486.5 624 487.3 625 487.6 626 487.5 627 487.9 628 487.4 629 488.0 630 487.3 631 486.9 632 487.1 633 487.4 634 487.3 635 487.9 636 487.5 637 487.4 638 487.1 639 487.6 640 487.3 641 487.6 642 488.1 643 488.1 644 487.2 645 486.8 646 488.3 647 488.1 648 487.9 649 487.4 650 487.2 651 487.0 652 487.0 653 486.4 654 487.0 655 486.8 656 486.3 657 486.3 658 486.7 659 487.6 660 487.9 661 487.3 662 486.9 663 487.0 664 487.5 665 488.3 666 488.5 667 488.3 668 488.3 669 488.5 670 487.6 671 487.6 672 487.6 673 488.3 674 488.0 675 488.3 676 488.3 677 488.7 678 488.1 679 487.3 680 487.5 681 486.9 682 487.8 683 487.2 684 487.2 685 487.7 686 487.7 687 487.9 688 488.0 689 487.7 690 487.2 691 486.9 692 487.6 693 488.0 694 487.4 695 488.3 696 488.0 697 487.8 698 488.4 699 487.6 700 487.7 701 487.9 702 488.5 703 487.7 704 487.7 705 487.8 706 488.0 707 487.8 708 487.2 709 487.8 710 488.1 711 488.8 712 488.6 713 488.6 714 488.2 715 487.5 716 487.3 717 487.3 718 487.7 719 488.3 720 488.0 721 488.5 722 487.7 723 487.8 724 487.7 725 487.4 726 488.2 727 487.3 728 486.6 729 487.1 730 486.7 731 486.2 732 486.3 733 486.2 734 485.4 735 485.1 736 484.9 737 484.4 738 484.4 739 483.6 740 483.2 741 484.2 742 484.5 743 484.7 744 484.6 745 484.8 746 484.4 747 485.2 748 485.3 749 485.9 750 486.8 751 486.2 752 486.9 753 486.5 754 487.1 755 486.8 756 486.3 757 486.7 758 485.7 759 486.9 760 486.7 761 486.9 762 486.5 763 486.7 764 486.5 765 486.8 766 486.7 767 485.8 768 487.1 769 487.2 770 488.2 771 487.1 772 487.1 773 487.8 774 487.2 775 487.2 776 486.7 777 487.0 778 487.2 779 487.1 780 487.6 781 487.2 782 487.8 783 487.5 784 487.5 785 487.4 786 487.7 787 487.8 788 488.0 789 486.7 790 487.4 791 487.7 792 487.8 793 486.9 794 488.2 795 487.7 796 488.0 797 487.6 798 487.4 799 487.4 800 487.9 801 487.9 802 487.2 803 487.5 804 487.3 805 487.4 806 486.8 807 487.1 808 487.4 809 487.6 810 487.3 811 487.3 812 487.7 813 488.3 814 488.2 815 488.1 816 488.5 817 487.9 818 487.5 819 487.0 820 487.5 821 487.1 822 486.7 823 486.8 824 486.7 825 487.0 826 486.6 827 486.3 828 485.7 829 485.9 830 485.2 831 483.7 832 483.6 832.6 483.8 833 483.8 834 484.4 835 485.0 836 485.8 837 486.3 838 486.7 839 486.7 840 486.2 841 486.4 842 486.8 843 487.1 844 487.7 845 487.2 846 486.7 847 487.6 848 487.1 849 486.8 850 487.0 851 487.6 852 487.3 853 487.3 854 486.9 855 486.6 856 486.8 857 487.8 858 487.5 859 487.9 860 487.9 861 487.8 862 487.6 863 487.7 864 487.1 865 486.3 866 486.2 867 486.4 868 487.7 869 487.0 870 487.0 871 487.5 872 487.4 873 487.2 874 487.2 875 486.9 876 488.2 877 487.3 878 487.4 879 487.7 880 488.2 881 488.3 882 488.0 883 487.8 884 488.7 885 487.8 886 487.7 887 487.3 888 487.5 889 487.7 890 486.7 891 486.9 892 486.8 893 487.0 894 487.8 895 487.7 896 487.8 897 487.9 898 487.6 899 487.4 900 486.9 901 486.6 902 486.4 903 486.4 904 486.0 905 485.3 906 484.4 907 484.3 908 484.9 909 486.8 910 487.1 911 487.0 912 487.8 913 488.3 914 488.3 915 487.8 916 486.8 917 488.0 918 487.2 919 487.6 920 488.0 921 487.9 922 487.9 923 487.7 924 487.5 925 487.8 926 487.6 927 487.6 928 487.2 929 486.5 930 486.6 931 487.5 932 487.8 933 487.1 934 486.1 935 487.6 936 487.4 937 487.9 938 487.4 939 487.2 940 486.4 941 485.7 942 485.8 943 486.3 944 485.8 945 485.7 946 486.1 947 486.3 948 486.0 949 486.9 950 487.1 951 487.3 952 486.7 953 487.6 954 487.0 955 487.7 956 488.4 957 487.9 958 487.5 959 486.9 960 486.9 961 487.5 962 487.5 963 487.2 964 487.0 965 487.9 966 487.4 967 487.4 968 487.5 969 487.5 970 487.2 971 487.0 972 487.3 973 487.6 974 488.3 975 487.8 976 487.9 977 488.0 978 488.4 979 487.9 980 487.4 981 487.7 982 488.1 983 488.0 984 487.4 985 487.1 986 487.2 987 487.2 988 488.2 989 488.5 990 487.9 991 487.8 992 488.0 993 488.0 994 488.1 995 487.5 996 487.5 997 487.7 998 487.2 999 487.5 1000 487.7 1001 487.6 1002 488.0 1003 487.9 1004 487.6 1005 486.8 1006 486.6 1007 486.9 1008 486.9 1009 486.6 1010 487.1 1011 486.7 1012 485.5 1013 485.3 1014 485.2 1015 484.5 1016 484.3 1017 483.7 1018 484.3 1019 484.3 1020 485.5 1021 486.5 1022 486.4 1023 485.9 1024 486.9 1025 487.2 1026 487.4 1027 487.8 1028 487.1 1029 486.9 1030 486.8 1031 487.3 1032 486.6 1033 486.5 1034 487.3 1035 487.1 1036 487.6 1037 487.8 1038 488.2 1039 487.6 1040 487.6 1041 487.7 1042 487.4 1043 488.1 1044 487.0 1045 487.7 1046 487.9 1047 488.2 1048 488.5 1049 488.8 1050 488.5 1051 488.6 1052 488.4 1053 487.8 1054 487.7 1055 487.6 1056 487.6 1057 488.2 1058 488.5 1059 487.4 1060 487.5 1061 486.6 1062 487.1 1063 486.3 1064 486.9 1065 486.5 1066 486.6 1067 486.2 1068 485.9 1069 486.4 1070 486.2 1071 486.2 1072 486.1 1073 486.3 1074 486.5 1075 486.8 1076 486.2 1077 486.8 1078 486.8 1079 487.0 1080 487.2 1081 487.7 1082 487.4 1083 487.9 1084 487.3 1085 487.0 1086 487.6 1087 487.2 1088 486.3 1089 487.1 1090 487.7 1091 487.3 1092 487.1 1093 487.9 1094 487.7 1095 488.2 1096 488.1 1097 487.7 1098 487.1 1099 487.8 1100 487.5 1101 487.0 1102 487.6 1103 487.4 1104 487.0 1105 488.2 1106 488.0 1107 487.6 1108 487.6 1109 487.2 1110 487.6 1111 487.4 1112 487.3 1113 487.4 1114 487.3 1115 487.4 1116 487.3 1117 486.8 1118 487.2 1119 487.5 1120 487.7 1121 487.6 1122 488.1 1123 487.7 1124 487.7 1125 487.8 1126 487.8 1127 487.7 1128 487.6 1129 487.4 1130 487.9 1131 487.8 1132 487.8 1133 487.6 1134 487.4 1135 488.2 1136 488.4 1137 488.3 1138 487.6 1139 486.7 1140 488.0 1141 487.7 1142 487.8 1143 487.4 1144 487.7 1145 487.7 1146 487.9 1147 488.5 1148 488.2 1149 488.1 1150 487.9 1151 487.8 1152 487.4 1153 487.4 1154 487.8 1155 488.3 1156 488.6 1157 487.5 1158 487.3 1159 487.5 1160 487.4 1161 487.9 1162 488.3 1163 487.5 1164 486.9 1165 487.9 1166 487.3 1167 488.0 1168 487.4 1169 487.8 1170 488.4 1171 487.9 1172 487.5 1173 487.1 1174 487.5 1175 487.4 1176 486.8 1177 487.3 1178 487.1 1179 488.2 1180 488.0 1181 487.8 1182 487.8 1183 487.3 1184 487.2 1185 487.1 1186 487.3 1187 487.7 1188 487.0 1189 486.9 1190 487.3 1191 487.6 1192 487.6 1193 487.3 1194 487.6 1195 487.8 1196 487.7 1197 487.2 1198 487.0 1199 487.3 1200 487.2 1201 487.4 1202 487.9 1203 487.3 1204 487.2 1205 487.8 1206 487.8 1207 487.7 1208 487.4 1209 488.0 1210 487.7 1211 488.1 1212 488.0 1213 487.8 1214 488.2 1215 487.8 1216 487.3 1217 487.5 1218 487.4 1219 487.8 1220 488.2 1221 488.3 1222 487.4 1223 487.9 1224 487.4 1225 487.4 1226 487.5 1227 488.0 1228 487.5 1229 487.8 1230 487.1 1231 486.7 1232 487.3 1233 487.6 1234 487.9 1235 487.7 1236 488.0 1237 487.1 1238 487.1 1239 487.5 1240 488.2 1241 488.5 1242 487.5 1243 487.4 1244 487.6 1245 488.0 1246 487.6 1247 488.6 1248 487.9 1249 487.5 1250 487.7 1251 487.3 1252 487.1 1253 487.1 1254 487.3 1255 487.9 1256 488.0 1257 487.9 1258 488.6 1259 487.4 1260 488.2 1261 487.5 1262 487.9 1263 487.4 1264 486.9 1265 486.9 1266 487.0 1267 486.7 1268 487.1 1269 487.8 1270 487.1 1271 487.1 1272 486.7 1273 487.1 1274 487.6 1275 488.0 1276 488.1 1277 487.6 1278 486.5 1279 486.9 1280 487.2 1281 486.9 1282 486.9 1283 487.0 1284 486.5 1285 486.7 1286 486.8 1287 487.4 1288 487.7 1289 487.9 1290 487.6 1291 487.3 1292 487.8 1293 487.7 1294 487.8 1295 487.6 1296 488.2 1297 488.1 1298 487.8 1299 487.2 1300 487.4 1301 487.4 1302 487.6 1303 487.4 1304 488.1 1305 488.0 1306 487.5 1307 487.3 1308 487.6 1309 487.5 1310 487.1 1311 487.0 1312 487.3 1313 487.2 1314 488.1 1315 487.8 1316 487.2 1317 487.7 1318 486.7 1319 487.5 1320 486.9 1321 486.9 1322 487.1 1323 486.7 1324 486.6 1325 487.2 1326 487.1 1327 486.8 1328 487.1 1329 487.6 1330 487.4 1331 487.3 1332 487.8 1333 487.7 1334 487.3 1335 487.7 1336 487.2 1337 487.4" stroke="#12C8CC" stroke-width="8.6"/>
<path d="M82.5 567.5 83 567.1 84 567.3 85 566.6 86 565.8 87 566.4 88 565.7 89 566.4 90 567.4 91 566.9 92 566.9 93 567.2 94 567.1 95 567.5 96 566.5 97 566.6 98 566.3 99 567.0 100 567.2 101 567.0 102 567.0 103 567.1 104 568.1 105 567.1 106 567.0 107 567.0 108 566.5 109 566.4 110 567.3 111 566.3 112 565.9 113 566.6 114 566.6 115 566.6 116 566.3 117 567.2 118 567.6 119 566.4 120 566.9 121 566.3 122 567.6 123 567.5 124 567.9 125 567.6 126 567.0 127 567.0 128 567.4 129 567.3 130 566.9 131 567.6 132 567.0 133 567.0 134 566.9 135 566.5 136 566.1 137 565.6 138 567.1 139 566.2 140 566.0 141 566.8 142 566.5 143 566.4 144 566.3 145 566.6 146 567.1 147 566.8 148 566.8 149 567.3 150 567.3 151 566.9 152 566.3 153 566.7 154 566.3 155 567.0 156 566.1 157 566.5 158 566.5 159 566.5 160 567.0 161 567.1 162 566.2 163 567.4 164 567.2 165 567.6 166 567.3 167 567.0 168 566.1 169 567.1 170 566.4 171 567.2 172 566.4 173 566.9 174 567.2 175 567.0 176 566.8 177 568.0 178 566.6 179 566.6 180 566.4 181 567.1 182 567.5 183 567.8 184 567.6 185 567.4 186 567.4 187 567.3 188 567.0 189 567.3 190 567.8 191 567.5 192 567.4 193 567.4 194 567.6 195 567.4 196 567.3 197 566.9 198 566.8 199 566.7 200 566.6 201 566.6 202 566.7 203 566.5 204 566.5 205 566.9 206 566.5 207 566.6 208 565.9 209 567.2 210 567.9 211 566.8 212 567.5 213 566.6 214 566.7 215 566.8 216 567.2 217 567.1 218 566.4 219 566.8 220 566.3 221 566.4 222 567.3 223 567.2 224 567.0 225 567.3 226 567.2 227 566.8 228 567.6 229 567.0 230 567.2 231 566.4 232 567.2 233 566.9 234 567.3 235 567.5 236 568.0 237 567.8 238 566.7 239 566.2 240 567.7 241 567.3 242 568.0 243 567.6 244 567.0 245 566.7 246 566.2 247 565.8 248 565.6 248.5 565.3 249 565.0 250 565.1 251 565.6 252 566.6 253 566.4 254 567.1 255 567.1 256 567.3 257 567.1 258 566.7 259 566.9 260 566.9 261 567.0 262 566.9 263 567.0 264 566.8 265 567.5 266 567.2 267 566.9 268 566.9 269 567.2 270 567.7 271 567.8 272 567.2 273 566.7 274 567.1 275 567.0 276 567.1 277 567.3 278 566.3 279 566.6 280 566.6 281 566.3 282 566.6 283 566.6 284 566.6 285 566.2 286 565.8 287 566.8 288 567.5 289 567.1 290 566.4 291 566.7 292 567.0 293 567.2 294 566.4 295 566.6 296 566.9 297 566.5 298 566.0 299 566.2 300 566.9 301 567.1 302 566.4 303 566.2 304 566.7 305 567.1 306 567.1 307 566.5 308 567.1 309 567.3 310 567.2 311 566.8 312 567.8 313 567.3 314 567.3 315 567.8 316 567.4 317 567.2 318 567.1 319 567.4 320 567.0 321 567.0 322 567.9 323 567.4 324 567.3 325 567.5 326 566.9 327 567.4 328 567.7 329 567.9 330 568.4 331 567.6 332 567.3 333 567.1 334 567.1 335 567.0 336 567.4 337 567.6 338 567.6 339 567.8 340 568.2 341 567.5 342 566.6 343 567.1 344 567.1 345 567.8 346 567.6 347 567.9 348 568.1 349 567.6 350 567.9 351 567.1 352 567.8 353 567.4 354 567.1 355 566.4 356 566.7 357 566.2 358 566.6 359 567.3 360 567.3 361 567.1 362 567.7 363 567.3 364 566.8 365 567.0 366 566.9 367 567.2 368 567.3 369 566.1 370 566.6 371 565.8 372 566.6 373 566.1 374 566.6 375 566.6 376 566.5 377 566.3 378 567.2 379 567.1 380 567.3 381 567.0 382 567.4 383 567.4 384 567.9 385 567.4 386 566.8 387 566.8 388 567.1 389 566.7 390 567.5 391 567.5 392 568.8 393 568.5 394 568.5 395 568.2 396 568.0 397 567.4 398 567.6 399 567.5 400 567.8 401 567.4 402 567.3 403 567.0 404 567.1 405 567.4 406 567.9 407 567.5 408 567.1 409 567.0 410 567.0 411 566.8 412 567.6 413 568.0 414 568.0 415 567.3 416 567.8 417 567.4 418 566.7 419 567.3 420 566.5 421 566.4 422 567.2 423 567.5 424 566.6 425 566.7 426 566.6 427 567.0 428 567.0 429 567.1 430 566.7 431 566.7 432 566.9 433 566.5 434 566.2 435 566.5 436 566.4 437 566.6 438 566.9 439 567.0 440 566.4 441 566.9 442 567.0 443 567.1 444 567.5 445 567.5 446 566.7 447 567.7 448 567.5 449 567.1 450 567.4 451 567.4 452 567.6 453 567.2 454 567.3 455 567.6 456 568.1 457 566.8 458 567.2 459 567.8 460 567.3 461 567.0 462 566.8 463 566.5 464 566.6 465 566.5 466 565.1 467 565.8 468 566.6 469 567.0 470 566.3 471 566.8 472 566.2 473 566.8 474 566.6 475 567.4 476 567.2 477 566.3 478 566.6 479 567.3 480 567.0 481 566.7 482 566.6 483 567.6 484 567.1 485 567.2 486 567.3 487 566.3 488 567.2 489 566.8 490 567.5 491 567.2 492 567.0 493 566.4 494 566.5 495 567.0 496 567.0 497 568.0 498 567.4 499 567.3 500 566.0 501 566.8 502 566.6 503 566.9 504 566.4 505 566.9 506 567.1 507 566.6 508 566.8 509 566.8 510 567.0 511 567.7 512 567.7 513 567.2 514 567.2 515 566.5 516 566.6 517 566.7 518 566.9 519 566.5 520 566.6 521 567.0 522 566.4 523 567.2 524 566.9 525 566.9 526 566.4 527 566.4 528 566.9 529 566.9 530 567.0 531 567.5 532 567.0 533 566.4 534 565.9 535 566.3 536 567.0 537 566.8 538 567.0 539 566.8 540 566.3 541 566.4 542 566.6 543 566.8 544 566.5 545 566.6 546 566.3 547 566.6 548 566.3 549 566.5 550 566.2 551 565.6 552 564.6 553 565.6 554 566.5 555 565.9 556 566.2 557 566.8 558 566.4 559 566.2 560 565.4 561 565.9 562 565.6 563 564.9 564 564.9 565 565.3 566 565.0 567 564.5 568 564.3 569 564.1 570 563.7 571 563.7 572 563.8 573 562.9 574 563.4 575 562.9 576 563.5 577 563.2 578 563.7 579 564.0 580 563.9 581 562.7 582 563.0 583 563.3 584 564.7 585 564.0 586 564.4 587 563.7 588 564.0 589 563.7 590 563.9 591 564.2 592 563.2 593 563.1 594 564.3 595 564.5 596 563.6 597 563.0 598 563.3 599 562.9 600 562.7 601 562.9 602 563.3 603 563.8 604 564.1 605 564.0 606 563.9 607 563.9 608 564.2 609 564.4 610 564.3 611 564.1 612 563.7 613 564.9 614 565.5 615 564.1 616 564.7 617 564.3 618 565.2 619 564.1 620 564.1 621 564.6 622 565.1 623 565.2 624 565.3 625 564.9 626 565.3 627 566.6 628 566.5 629 566.0 630 565.5 631 566.3 632 565.9 633 566.2 634 566.0 635 566.6 636 566.5 637 565.7 638 565.9 639 565.9 640 565.7 641 565.4 642 566.0 643 566.3 644 566.7 645 566.0 646 565.7 647 566.1 648 565.6 649 565.7 650 566.1 651 566.3 652 566.5 653 566.5 654 566.6 655 567.0 656 566.6 657 567.5 658 567.2 659 566.3 660 565.9 661 566.3 662 565.9 663 565.6 664 565.7 665 566.0 666 567.3 667 566.9 668 566.7 669 566.3 670 566.4 671 566.2 672 566.0 673 565.5 674 566.1 675 566.9 676 566.9 677 566.7 678 567.8 679 566.9 680 566.6 681 566.9 682 566.9 683 567.1 684 567.0 685 566.6 686 567.1 687 567.3 688 567.3 689 566.7 690 566.9 691 566.8 692 566.6 693 567.2 694 567.0 695 567.3 696 568.2 697 568.3 698 567.1 699 566.8 700 567.9 701 567.2 702 566.9 703 567.7 704 567.6 705 567.7 706 567.3 707 566.2 708 566.7 709 566.4 710 566.5 711 565.8 712 566.4 713 566.6 714 566.4 715 565.7 716 565.8 717 566.4 718 566.6 719 567.1 720 566.9 721 567.3 722 566.7 723 566.0 724 566.6 725 566.5 726 566.7 727 567.0 728 567.0 729 566.9 730 567.1 731 567.2 732 566.5 733 566.0 734 566.8 735 567.0 736 567.2 737 566.1 738 566.3 739 566.4 740 566.5 741 566.2 742 566.4 743 566.8 744 567.3 745 567.1 746 567.2 747 567.7 748 567.6 749 567.0 750 566.9 751 567.2 752 567.6 753 567.2 754 567.0 755 566.7 756 566.1 757 566.2 758 567.0 759 567.2 760 566.5 761 566.5 762 567.6 763 567.2 764 567.0 765 565.9 766 566.1 767 566.5 768 566.4 769 566.3 770 567.3 771 566.8 772 566.5 773 566.7 774 566.7 775 567.0 776 566.4 777 567.0 778 566.7 779 566.9 780 566.7 781 567.2 782 567.2 783 566.3 784 566.2 785 565.8 786 566.0 787 567.6 788 567.0 789 567.0 790 567.0 791 566.7 792 567.4 793 566.6 794 567.5 795 567.1 796 567.7 797 567.2 798 567.0 799 566.8 800 566.6 801 566.6 802 566.8 803 566.6 804 567.0 805 567.2 806 566.7 807 566.3 808 566.8 809 566.7 810 567.2 811 567.1 812 566.7 813 566.4 814 567.0 815 567.5 816 566.8 817 567.3 818 567.3 819 567.3 820 566.9 821 567.0 822 567.1 823 565.9 824 567.3 825 567.1 826 567.2 827 567.5 828 567.5 829 567.3 830 568.0 831 568.0 832 567.5 833 567.2 834 565.7 835 566.5 836 566.8 837 566.2 838 566.3 839 566.8 840 566.5 841 566.8 842 565.9 843 566.1 844 566.1 845 567.2 846 566.8 847 567.2 848 567.3 849 566.7 850 567.0 851 567.0 852 567.0 853 566.6 854 566.4 855 565.9 856 566.7 857 566.3 858 565.6 859 565.7 860 566.3 861 566.1 862 566.6 863 567.1 864 567.4 865 566.5 866 567.1 867 567.6 868 567.8 869 567.1 870 566.9 871 567.0 872 566.8 873 567.7 874 567.3 875 567.4 876 567.0 877 566.4 878 567.2 879 566.9 880 566.7 881 566.9 882 566.4 883 566.4 884 565.7 885 565.8 886 566.0 887 566.4 888 566.4 889 566.7 890 566.3 891 567.0 892 566.5 893 566.3 894 566.8 895 567.1 896 566.2 897 567.1 898 567.5 899 567.2 900 567.1 901 567.8 902 567.8 903 567.7 904 567.1 905 566.9 906 566.6 907 567.5 908 567.7 909 567.9 910 567.7 911 566.6 912 567.2 913 566.5 914 567.3 915 566.9 916 566.6 917 566.2 918 566.7 919 566.8 920 566.2 921 566.2 922 566.3 923 566.3 924 567.0 925 567.3 926 566.2 927 567.2 928 566.5 929 566.2 930 565.9 931 566.9 932 566.4 933 566.7 934 566.8 935 566.7 936 566.6 937 567.2 938 567.5 939 566.8 940 566.3 941 566.6 942 566.5 943 566.5 944 567.3 945 566.8 946 566.6 947 567.4 948 567.2 949 566.9 950 567.0 951 567.0 952 567.0 953 567.0 954 567.1 955 567.0 956 567.4 957 566.6 958 566.3 959 566.2 960 567.0 961 566.1 962 565.9 963 566.8 964 566.4 965 567.0 966 567.0 967 566.5 968 566.7 969 566.1 970 567.2 971 566.4 972 566.3 973 566.0 974 567.1 975 566.3 976 566.5 977 566.7 978 565.9 979 567.1 980 567.6 981 567.7 982 567.5 983 567.6 984 567.0 985 567.4 986 567.6 987 567.8 988 567.0 989 567.0 990 566.8 991 567.5 992 567.8 993 567.5 994 567.2 995 566.5 996 566.8 997 567.4 998 567.3 999 568.2 1000 567.4 1001 566.9 1002 566.9 1003 566.8 1004 566.8 1005 566.5 1006 566.5 1007 566.5 1008 566.4 1009 566.9 1010 566.8 1011 566.2 1012 566.2 1013 566.3 1014 566.6 1015 566.0 1016 566.8 1017 566.7 1018 566.8 1019 566.6 1020 567.2 1021 566.6 1022 566.9 1023 567.0 1024 567.5 1025 567.7 1026 568.4 1027 567.6 1028 567.1 1029 567.1 1030 568.1 1031 567.6 1032 567.4 1033 568.0 1034 567.8 1035 566.9 1036 567.9 1037 567.1 1038 567.4 1039 567.0 1040 567.7 1041 567.4 1042 567.5 1043 567.4 1044 567.0 1045 566.7 1046 567.0 1047 567.3 1048 567.3 1049 567.2 1050 567.1 1051 567.3 1052 566.6 1053 567.5 1054 567.6 1055 567.1 1056 566.6 1057 566.7 1058 567.0 1059 567.8 1060 567.4 1061 567.1 1062 566.5 1063 567.1 1064 567.5 1065 567.4 1066 566.7 1067 567.2 1068 567.3 1069 566.5 1070 567.5 1071 567.8 1072 567.5 1073 567.4 1074 568.7 1075 568.0 1076 567.9 1077 567.2 1078 566.8 1079 566.3 1080 567.3 1081 567.2 1082 567.0 1083 567.7 1084 567.3 1085 567.4 1086 566.5 1087 565.5 1088 566.1 1089 567.1 1090 566.1 1091 567.0 1092 566.8 1093 566.9 1094 566.8 1095 566.5 1096 567.0 1097 567.2 1098 567.6 1099 566.7 1100 566.8 1101 567.1 1102 566.5 1103 566.7 1104 567.2 1105 567.5 1106 567.0 1107 566.8 1108 567.2 1109 567.3 1110 567.3 1111 567.2 1112 566.5 1113 566.8 1114 567.1 1115 567.1 1116 566.7 1117 566.9 1118 566.9 1119 566.5 1120 566.6 1121 567.3 1122 566.6 1123 566.5 1124 566.5 1125 566.1 1126 566.5 1127 566.6 1128 567.1 1129 566.3 1130 566.4 1131 566.9 1132 567.0 1133 567.6 1134 567.3 1135 567.3 1136 566.5 1137 566.2 1138 566.6 1139 566.4 1140 566.3 1141 566.1 1142 566.7 1143 566.6 1144 566.7 1145 567.1 1146 567.2 1147 567.0 1148 566.5 1149 566.2 1150 567.5 1151 567.4 1152 566.9 1153 566.7 1154 566.8 1155 566.4 1156 566.7 1157 566.8 1158 567.3 1159 567.1 1160 567.0 1161 566.6 1162 566.9 1163 566.3 1164 566.7 1165 567.1 1166 566.2 1167 566.8 1168 566.1 1169 567.2 1170 567.0 1171 567.4 1172 566.3 1173 566.1 1174 566.2 1175 566.9 1176 567.4 1177 567.3 1178 567.3 1179 567.0 1180 567.1 1181 566.3 1182 566.6 1183 566.6 1184 566.9 1185 567.0 1186 567.3 1187 567.1 1188 567.5 1189 567.3 1190 567.1 1191 567.6 1192 567.4 1193 567.8 1194 567.8 1195 566.8 1196 566.7 1197 567.1 1198 568.1 1199 566.9 1200 567.4 1201 567.0 1202 567.3 1203 567.0 1204 567.1 1205 567.0 1206 566.9 1207 566.8 1208 566.9 1209 568.1 1210 567.3 1211 567.5 1212 566.7 1213 567.5 1214 567.4 1215 566.9 1216 567.3 1217 567.6 1218 567.9 1219 567.0 1220 567.5 1221 567.8 1222 567.8 1223 566.8 1224 567.5 1225 567.9 1226 567.9 1227 567.4 1228 566.9 1229 566.8 1230 567.0 1231 566.5 1232 567.3 1233 566.8 1234 566.6 1235 567.0 1236 566.6 1237 566.2 1238 566.1 1239 565.9 1240 566.6 1241 566.8 1242 567.3 1243 567.1 1244 567.4 1245 566.1 1246 566.0 1247 566.9 1248 566.7 1249 567.0 1250 567.0 1251 566.9 1252 566.5 1253 566.5 1254 567.3 1255 566.7 1256 567.8 1257 566.4 1258 566.6 1259 566.7 1260 566.8 1261 567.0 1262 567.4 1263 567.3 1264 567.0 1265 567.2 1266 566.3 1267 566.6 1268 566.8 1269 567.1 1270 566.9 1271 566.6 1272 566.6 1273 566.3 1274 567.2 1275 567.8 1276 567.3 1277 567.3 1278 566.7 1279 566.1 1280 567.0 1281 567.2 1282 566.8 1283 567.7 1284 567.6 1285 567.3 1286 566.9 1287 567.6 1288 566.7 1289 566.9 1290 566.0 1291 566.8 1292 566.5 1293 567.1 1294 566.5 1295 566.6 1296 567.0 1297 567.2 1298 567.2 1299 566.4 1300 566.4 1301 565.8 1302 566.1 1303 566.7 1304 567.0 1305 567.1 1306 566.9 1307 566.3 1308 566.9 1309 567.0 1310 566.5 1311 566.7 1312 567.4 1313 567.6 1314 567.3 1315 566.8 1316 566.9 1317 566.7 1318 566.9 1319 566.8 1320 567.5 1321 567.4 1322 567.5 1323 567.6 1324 567.4 1325 567.1 1326 567.3 1327 567.1 1328 567.6 1329 566.7 1330 566.9 1331 567.1 1332 566.2 1333 566.4 1334 566.9 1335 566.9 1336 566.4 1337 566.8" stroke="#B07CE0" stroke-width="7.8"/>
<path d="M82.5 658.4 83 657.9 84 658.0 85 656.8 86 657.2 87 657.7 88 658.7 89 659.2 90 658.2 91 657.8 92 658.5 93 658.6 94 658.1 95 658.1 96 658.3 97 658.0 98 658.6 99 658.3 100 658.1 101 657.9 102 657.8 103 658.2 104 658.7 105 659.0 106 658.4 107 658.5 108 657.8 109 658.2 110 657.9 111 657.7 112 658.2 113 657.7 114 657.5 115 658.0 116 657.7 117 657.5 118 657.6 119 657.7 120 657.6 121 658.6 122 658.8 123 658.7 124 658.3 125 658.6 126 658.2 127 657.9 128 658.6 129 658.3 130 658.3 131 658.4 132 658.6 133 658.7 134 658.3 135 659.4 136 658.7 137 659.0 138 659.1 139 658.6 140 659.1 141 659.6 142 658.6 143 658.3 144 658.2 145 658.2 146 658.1 147 658.8 148 658.3 149 657.3 150 658.3 151 657.7 152 657.3 153 657.5 154 658.2 155 657.3 156 657.8 157 658.2 158 657.4 159 657.8 160 658.4 161 657.8 162 657.9 163 658.7 164 658.5 165 657.9 166 658.2 167 658.2 168 658.2 169 658.4 170 657.2 171 657.1 172 657.0 173 658.1 174 657.7 175 657.3 176 657.4 177 657.4 178 657.1 179 657.5 180 657.6 181 657.3 182 656.5 183 656.6 184 657.2 185 656.9 186 656.2 187 657.1 188 656.9 189 656.6 190 656.5 191 655.8 192 655.8 193 655.5 194 655.7 195 656.5 196 656.6 197 656.4 198 655.6 199 655.8 200 655.2 201 655.6 202 655.4 203 655.7 204 655.4 205 655.2 206 655.9 207 655.9 208 655.4 209 654.7 210 653.9 211 653.7 212 653.7 213 653.9 214 653.7 215 653.6 216 652.4 217 653.1 218 652.7 219 652.3 220 653.1 221 651.9 222 651.7 223 650.3 224 650.7 225 650.8 226 649.8 227 649.8 228 648.5 229 648.2 230 647.6 231 647.9 232 647.4 233 647.3 234 646.0 235 646.1 236 645.2 237 645.0 238 643.7 239 643.9 240 643.8 241 643.2 242 641.6 243 641.4 244 640.3 245 640.4 246 640.2 247 639.7 248 639.0 249 637.1 250 636.7 251 636.3 252 635.7 253 635.6 254 634.4 255 634.0 256 632.9 257 632.8 258 632.9 259 632.4 260 631.2 261 631.2 262 630.4 263 630.4 264 629.4 265 628.7 266 628.1 267 628.3 268 627.8 269 627.0 270 627.1 271 627.2 272 627.6 273 626.5 274 625.9 275 625.3 276 624.6 277 623.8 278 623.0 279 622.4 280 623.0 281 623.2 282 622.2 283 621.6 284 621.1 285 620.3 286 620.5 287 620.8 288 620.6 289 621.3 290 620.4 291 620.1 292 618.6 293 618.3 294 618.2 295 618.9 296 618.5 297 618.5 298 618.1 299 617.8 300 617.8 301 618.3 302 617.0 303 617.8 304 617.3 305 618.4 306 617.2 307 618.0 308 618.0 309 618.2 310 618.4 311 618.5 312 618.5 313 618.7 314 619.1 315 618.7 316 619.2 317 618.9 318 618.5 319 620.0 320 619.9 321 620.1 322 619.6 323 620.3 324 620.8 325 621.8 326 622.4 327 622.8 328 623.7 329 623.5 330 623.8 331 624.6 332 625.8 333 626.7 334 626.5 335 626.9 336 627.5 337 628.5 338 629.8 339 630.4 340 631.3 341 631.3 342 632.4 343 632.8 344 633.5 345 634.1 346 635.0 347 635.9 348 636.2 349 637.5 350 637.5 351 637.6 352 639.1 353 640.2 354 640.9 355 642.2 356 643.4 357 644.2 358 644.9 359 644.7 360 645.7 361 646.4 362 646.8 363 647.6 364 647.5 365 648.4 366 649.0 367 649.5 368 649.9 369 650.4 370 651.0 371 651.5 372 652.2 373 652.7 374 653.1 375 654.0 376 654.0 377 654.2 378 654.1 379 655.1 380 654.9 381 655.5 382 656.5 383 656.2 384 656.4 385 656.7 386 656.5 387 656.6 388 656.7 389 657.1 390 657.9 391 657.9 392 657.6 393 657.0 394 657.4 395 656.8 396 656.7 397 656.3 398 656.9 399 657.3 400 657.1 401 657.5 402 657.4 403 657.7 404 657.4 405 657.1 406 657.0 407 657.8 408 659.1 409 658.2 410 658.0 411 657.8 412 657.6 413 657.3 414 657.4 415 657.3 416 657.8 417 657.3 418 657.5 419 657.7 420 657.3 421 657.7 422 657.9 423 658.6 424 658.5 425 657.6 426 658.0 427 657.6 428 658.3 429 658.0 430 658.0 431 657.3 432 657.7 433 658.1 434 657.7 435 657.2 436 658.0 437 658.1 438 658.0 439 657.6 440 657.4 441 657.4 442 658.3 443 658.0 444 657.9 445 657.5 446 658.5 447 658.6 448 658.3 449 658.9 450 657.9 451 657.3 452 657.3 453 657.9 454 658.1 455 658.1 456 658.0 457 657.2 458 657.6 459 657.7 460 657.8 461 657.4 462 657.5 463 657.7 464 657.1 465 657.4 466 657.9 467 657.8 468 657.2 469 657.5 470 658.0 471 658.0 472 657.9 473 657.6 474 658.1 475 658.1 476 657.7 477 657.6 478 658.4 479 658.1 480 658.6 481 658.0 482 658.1 483 658.5 484 658.1 485 658.8 486 658.4 487 658.1 488 656.5 489 656.7 490 657.5 491 657.0 492 658.2 493 657.9 494 658.8 495 657.8 496 657.5 497 657.8 498 657.3 499 656.9 500 658.1 501 657.2 502 657.2 503 658.1 504 657.9 505 657.6 506 657.4 507 657.6 508 658.4 509 658.7 510 657.8 511 658.1 512 658.1 513 658.4 514 657.8 515 658.1 516 658.6 517 658.8 518 659.0 519 659.2 520 658.8 521 658.2 522 658.8 523 658.2 524 657.1 525 657.8 526 658.2 527 658.3 528 657.3 529 657.4 530 658.1 531 657.9 532 657.9 533 658.2 534 657.9 535 659.0 536 657.9 537 657.3 538 658.1 539 657.6 540 657.3 541 656.9 542 656.9 543 656.8 544 656.2 545 656.5 546 656.0 547 655.5 548 655.6 549 656.1 550 655.3 551 655.7 552 654.6 553 654.5 554 653.9 555 653.5 556 652.5 557 653.0 558 652.0 559 651.3 560 651.2 561 650.8 562 649.6 563 648.7 564 648.2 565 648.2 566 647.4 567 645.7 568 645.7 569 645.4 570 644.7 571 643.6 572 643.1 573 642.2 574 641.0 575 640.1 576 640.5 577 639.4 578 638.5 579 637.1 580 636.8 581 634.9 582 634.7 583 634.4 584 634.6 585 633.5 586 633.0 587 631.6 588 631.9 589 631.7 590 631.6 591 631.2 592 631.1 593 631.3 594 631.6 595 632.6 596 632.2 597 632.6 598 633.1 599 633.3 600 633.5 601 633.9 602 634.3 603 634.8 604 634.8 605 635.6 606 635.8 607 636.7 608 637.2 609 638.0 610 639.0 611 640.2 612 640.2 613 640.2 614 641.0 615 642.2 616 642.9 617 643.2 618 643.6 619 644.5 620 644.6 621 645.3 622 645.3 623 646.3 624 646.4 625 646.2 626 647.1 627 647.9 628 648.5 629 648.8 630 649.6 631 649.7 632 650.4 633 649.9 634 650.7 635 650.5 636 652.0 637 652.4 638 652.5 639 652.2 640 652.5 641 652.3 642 653.2 643 653.4 644 653.8 645 653.9 646 653.6 647 654.3 648 654.6 649 655.1 650 654.4 651 654.7 652 655.3 653 655.5 654 655.7 655 655.8 656 655.7 657 655.9 658 656.2 659 655.9 660 656.5 661 656.1 662 656.3 663 656.1 664 656.5 665 656.5 666 656.9 667 656.9 668 655.8 669 656.6 670 656.4 671 657.2 672 657.4 673 657.1 674 657.4 675 656.7 676 657.1 677 657.3 678 657.1 679 657.2 680 656.3 681 657.6 682 657.2 683 657.6 684 656.8 685 657.4 686 657.8 687 658.4 688 657.7 689 656.9 690 658.2 691 658.9 692 658.0 693 658.2 694 658.0 695 657.6 696 658.1 697 658.0 698 658.3 699 657.9 700 657.8 701 657.8 702 657.2 703 657.8 704 657.6 705 657.9 706 658.3 707 658.5 708 658.8 709 659.2 710 659.4 711 658.7 712 657.9 713 657.7 714 657.7 715 657.6 716 657.3 717 657.5 718 658.3 719 658.1 720 657.5 721 658.1 722 657.3 723 657.7 724 657.8 725 658.1 726 658.1 727 657.4 728 657.0 729 657.4 730 657.7 731 657.5 732 657.9 733 658.4 734 657.5 735 657.9 736 657.5 737 657.9 738 658.4 739 658.7 740 658.2 741 657.8 742 657.9 743 657.9 744 657.8 745 658.2 746 657.3 747 657.7 748 657.6 749 658.2 750 658.5 751 659.1 752 658.6 753 658.1 754 657.5 755 657.0 756 657.4 757 657.7 758 656.4 759 656.2 760 657.2 761 657.2 762 657.8 763 658.4 764 658.1 765 658.2 766 658.0 767 657.3 768 657.7 769 658.1 770 658.5 771 658.6 772 657.9 773 657.5 774 657.7 775 657.7 776 658.2 777 658.3 778 658.0 779 657.8 780 657.5 781 658.5 782 658.3 783 657.6 784 657.9 785 657.4 786 657.9 787 658.2 788 657.9 789 657.0 790 657.7 791 658.2 792 658.5 793 659.3 794 658.4 795 658.3 796 657.7 797 658.0 798 658.0 799 658.7 800 658.0 801 657.8 802 657.5 803 658.2 804 658.0 805 658.0 806 657.8 807 657.8 808 657.6 809 657.3 810 658.9 811 658.4 812 658.0 813 657.6 814 658.2 815 658.1 816 657.3 817 658.2 818 657.2 819 656.8 820 657.7 821 657.5 822 658.0 823 657.6 824 658.0 825 658.0 826 657.9 827 657.8 828 658.0 829 657.6 830 658.3 831 658.7 832 658.2 833 658.2 834 657.8 835 658.5 836 659.2 837 658.9 838 659.0 839 658.0 840 658.2 841 658.0 842 658.5 843 657.7 844 658.9 845 658.1 846 658.0 847 658.1 848 658.1 849 658.4 850 658.2 851 658.2 852 657.7 853 657.8 854 657.6 855 658.2 856 658.0 857 658.6 858 658.9 859 658.9 860 658.6 861 657.7 862 657.7 863 658.0 864 658.4 865 658.5 866 657.9 867 658.3 868 657.5 869 657.7 870 657.7 871 657.2 872 657.4 873 658.3 874 658.1 875 657.3 876 657.6 877 657.0 878 657.2 879 657.3 880 658.0 881 657.4 882 657.8 883 657.4 884 658.1 885 658.7 886 657.6 887 658.6 888 657.8 889 658.6 890 658.1 891 657.7 892 657.6 893 658.1 894 658.1 895 658.5 896 658.2 897 658.0 898 658.1 899 657.6 900 657.5 901 657.7 902 657.1 903 656.8 904 656.7 905 657.1 906 658.3 907 658.4 908 658.2 909 657.2 910 657.3 911 657.9 912 657.8 913 658.1 914 658.1 915 657.3 916 658.1 917 657.6 918 657.5 919 656.9 920 658.0 921 658.4 922 657.8 923 658.8 924 658.8 925 658.5 926 657.7 927 657.5 928 657.9 929 657.6 930 658.0 931 657.8 932 657.7 933 657.8 934 658.2 935 657.8 936 658.5 937 658.4 938 657.6 939 657.8 940 657.9 941 658.1 942 658.5 943 658.2 944 658.9 945 658.3 946 658.1 947 658.1 948 657.6 949 658.4 950 659.4 951 658.4 952 658.3 953 658.3 954 658.1 955 657.8 956 657.9 957 657.5 958 657.5 959 657.7 960 657.3 961 657.6 962 658.0 963 658.2 964 657.6 965 658.4 966 658.2 967 658.1 968 659.0 969 658.0 970 658.5 971 658.2 972 658.2 973 658.3 974 658.0 975 658.1 976 658.3 977 659.0 978 658.8 979 658.6 980 658.3 981 658.6 982 658.4 983 658.2 984 658.8 985 658.6 986 658.6 987 657.8 988 657.8 989 657.7 990 657.4 991 658.5 992 658.2 993 657.7 994 658.0 995 657.5 996 657.2 997 657.7 998 658.2 999 657.6 1000 657.6 1001 658.2 1002 658.0 1003 657.4 1004 657.6 1005 657.8 1006 658.6 1007 657.9 1008 657.9 1009 658.0 1010 657.6 1011 657.1 1012 658.1 1013 658.0 1014 657.9 1015 657.1 1016 657.2 1017 658.1 1018 658.3 1019 658.0 1020 656.9 1021 657.0 1022 657.3 1023 657.7 1024 657.7 1025 657.6 1026 657.4 1027 657.2 1028 658.0 1029 657.5 1030 657.2 1031 657.9 1032 658.3 1033 658.0 1034 657.9 1035 658.0 1036 658.2 1037 658.0 1038 657.7 1039 658.0 1040 658.3 1041 657.2 1042 658.2 1043 657.4 1044 658.1 1045 657.7 1046 656.5 1047 657.9 1048 657.4 1049 658.3 1050 657.4 1051 657.5 1052 657.7 1053 657.6 1054 658.2 1055 658.3 1056 657.5 1057 657.3 1058 657.7 1059 658.2 1060 658.0 1061 658.1 1062 657.5 1063 657.8 1064 657.6 1065 657.8 1066 658.4 1067 657.7 1068 658.2 1069 658.1 1070 658.2 1071 658.0 1072 657.8 1073 658.3 1074 658.9 1075 658.8 1076 658.9 1077 659.0 1078 657.7 1079 657.8 1080 658.1 1081 658.6 1082 658.4 1083 658.0 1084 657.7 1085 657.6 1086 657.7 1087 657.5 1088 658.3 1089 658.1 1090 657.6 1091 657.6 1092 657.7 1093 657.3 1094 657.4 1095 657.2 1096 657.2 1097 657.6 1098 657.9 1099 657.3 1100 656.5 1101 655.9 1102 657.1 1103 656.9 1104 657.2 1105 656.5 1106 655.5 1107 655.5 1108 655.7 1109 655.6 1110 655.6 1111 655.4 1112 655.6 1113 656.5 1114 656.1 1115 656.2 1116 656.2 1117 656.5 1118 655.5 1119 655.3 1120 655.8 1121 656.0 1122 655.3 1123 655.3 1124 655.1 1125 655.0 1126 655.0 1127 655.6 1128 654.9 1129 654.1 1130 653.7 1131 654.2 1132 654.7 1133 655.9 1134 655.4 1135 654.3 1136 654.7 1137 654.1 1138 654.8 1139 654.6 1140 655.2 1141 654.7 1142 655.1 1143 655.2 1144 655.6 1145 655.0 1146 655.1 1147 655.1 1148 654.5 1149 654.9 1150 655.4 1151 655.7 1152 655.8 1153 656.4 1154 655.9 1155 656.1 1156 655.7 1157 656.5 1158 657.1 1159 656.4 1160 656.7 1161 656.7 1162 656.9 1163 657.2 1164 658.3 1165 657.7 1166 657.6 1167 658.4 1168 658.0 1169 657.3 1170 657.1 1171 658.3 1172 658.6 1173 657.9 1174 657.7 1175 657.8 1176 658.4 1177 658.5 1178 657.8 1179 658.0 1180 658.1 1181 657.6 1182 657.6 1183 657.6 1184 657.9 1185 657.5 1186 657.7 1187 657.9 1188 658.2 1189 658.1 1190 657.6 1191 657.4 1192 657.8 1193 658.7 1194 658.0 1195 658.0 1196 658.0 1197 658.0 1198 659.0 1199 658.9 1200 658.9 1201 658.1 1202 658.0 1203 658.3 1204 657.7 1205 657.5 1206 658.1 1207 657.6 1208 657.7 1209 657.4 1210 658.1 1211 658.6 1212 657.8 1213 658.6 1214 658.5 1215 658.1 1216 657.5 1217 657.6 1218 658.3 1219 657.9 1220 658.1 1221 657.7 1222 657.5 1223 658.5 1224 658.7 1225 658.6 1226 659.1 1227 658.6 1228 658.1 1229 658.0 1230 658.0 1231 657.9 1232 658.1 1233 658.8 1234 658.4 1235 658.1 1236 658.9 1237 658.7 1238 659.0 1239 658.6 1240 658.2 1241 658.2 1242 658.5 1243 658.3 1244 658.5 1245 658.4 1246 659.0 1247 658.7 1248 658.6 1249 658.6 1250 658.9 1251 658.8 1252 658.7 1253 659.3 1254 659.2 1255 659.3 1256 658.5 1257 658.8 1258 658.4 1259 658.6 1260 658.5 1261 658.7 1262 658.0 1263 658.6 1264 658.0 1265 657.9 1266 658.1 1267 658.0 1268 657.8 1269 657.6 1270 657.6 1271 657.1 1272 656.8 1273 657.9 1274 658.4 1275 658.5 1276 658.2 1277 658.0 1278 658.4 1279 658.4 1280 658.2 1281 658.5 1282 658.3 1283 657.3 1284 657.9 1285 658.5 1286 658.5 1287 658.9 1288 658.1 1289 658.3 1290 657.2 1291 657.7 1292 657.4 1293 657.1 1294 657.5 1295 657.2 1296 658.2 1297 658.6 1298 659.2 1299 658.9 1300 657.5 1301 657.8 1302 657.7 1303 658.5 1304 658.5 1305 658.3 1306 656.8 1307 657.9 1308 657.8 1309 657.0 1310 657.3 1311 658.6 1312 657.3 1313 658.1 1314 657.8 1315 658.4 1316 658.4 1317 657.5 1318 658.3 1319 657.6 1320 657.5 1321 658.1 1322 658.7 1323 658.2 1324 657.5 1325 657.3 1326 657.7 1327 657.8 1328 657.5 1329 658.0 1330 657.1 1331 658.0 1332 658.1 1333 657.9 1334 658.1 1335 657.8 1336 657.8 1337 658.2" stroke="#1F66DC" stroke-width="9.0"/>
<path d="M82.5 772.2 83 771.5 84 770.8 85 771.8 86 772.3 87 771.4 88 771.1 89 771.8 90 771.1 91 771.3 92 772.4 93 772.0 94 771.9 95 771.8 96 771.1 97 771.9 98 771.8 99 771.5 100 771.2 101 771.1 102 770.6 103 770.5 104 771.1 105 771.1 106 771.1 107 771.6 108 772.5 109 771.7 110 771.7 111 772.0 112 771.8 113 771.8 114 772.7 115 772.8 116 772.4 117 771.9 118 771.8 119 773.1 120 772.3 121 771.9 122 772.3 123 772.9 124 772.1 125 771.8 126 772.1 127 772.2 128 772.6 129 772.9 130 772.2 131 772.1 132 772.2 133 772.4 134 771.5 135 771.7 136 772.0 137 772.0 138 772.9 139 772.8 140 772.1 141 772.3 142 772.5 143 772.2 144 771.9 145 773.3 146 772.6 147 772.4 148 771.8 149 772.9 150 772.2 151 772.0 152 772.5 153 772.5 154 773.1 155 772.8 156 772.7 157 772.7 158 772.6 159 772.6 160 773.1 161 773.0 162 772.5 163 771.5 164 771.7 165 771.7 166 772.1 167 772.2 168 772.7 169 772.7 170 772.5 171 772.1 172 772.8 173 772.0 174 772.1 175 772.2 176 772.2 177 772.7 178 772.6 179 771.7 180 771.9 181 772.2 182 772.2 183 772.0 184 772.6 185 772.1 186 772.0 187 771.8 188 771.3 189 770.9 190 771.2 191 771.3 192 771.2 193 770.8 194 770.9 195 770.9 196 770.4 197 770.3 198 770.4 199 770.1 200 770.0 201 770.2 202 769.9 203 770.1 204 769.0 205 768.8 206 768.5 207 768.3 208 768.1 209 767.9 210 767.0 211 766.7 212 766.4 213 767.1 214 766.6 215 766.2 216 765.8 217 765.2 218 764.9 219 764.9 220 764.9 221 764.4 222 763.7 223 763.4 224 763.3 225 762.5 226 762.2 227 760.8 228 760.9 229 760.6 230 759.7 231 759.2 232 758.7 233 758.0 234 757.4 235 756.4 236 755.5 237 755.5 238 754.4 239 753.6 240 753.4 241 752.1 242 751.4 243 750.1 244 749.9 245 749.2 246 748.2 247 747.9 248 747.5 249 746.5 250 746.8 251 745.8 252 744.6 253 743.8 254 742.7 255 741.6 256 741.3 257 740.0 258 738.7 259 738.8 260 737.3 261 736.5 262 735.7 263 734.8 264 732.6 265 731.3 266 729.8 267 729.2 268 729.3 269 727.6 270 726.2 271 724.6 272 723.7 273 722.3 274 722.0 275 720.7 276 719.2 277 718.2 278 717.3 279 715.2 280 713.5 281 712.2 282 711.0 283 710.9 284 710.3 285 708.8 286 707.8 287 706.8 288 705.3 289 704.6 290 703.7 291 702.8 292 702.4 293 701.4 294 700.0 295 699.0 296 699.5 297 698.6 298 697.8 299 697.2 300 696.1 301 696.1 302 695.6 303 695.8 304 695.8 305 694.9 306 694.4 307 694.2 308 694.2 309 693.7 310 694.2 311 694.0 312 693.7 313 693.7 314 693.6 315 694.2 316 693.7 317 693.8 318 694.2 319 694.3 320 694.7 321 695.0 322 695.1 323 695.8 324 696.7 325 696.6 326 697.3 327 698.4 328 699.3 329 701.0 330 701.9 331 703.1 332 704.7 333 706.0 334 707.6 335 709.9 336 711.6 337 713.5 338 715.2 339 717.8 340 719.2 341 720.7 342 722.0 343 724.3 344 725.9 345 727.9 346 730.4 347 731.2 348 733.1 349 734.9 350 736.3 351 738.9 352 741.0 353 742.6 354 742.9 355 744.5 356 745.6 357 748.0 358 750.4 359 750.6 360 752.1 361 752.9 362 754.2 363 755.8 364 756.1 365 757.7 366 758.4 367 759.2 368 760.0 369 760.7 370 760.8 371 762.0 372 763.1 373 763.1 374 763.2 375 764.2 376 764.9 377 764.9 378 765.5 379 766.1 380 766.9 381 768.0 382 767.5 383 768.3 384 769.6 385 769.3 386 769.2 387 769.4 388 769.4 389 770.0 390 770.0 391 769.9 392 769.9 393 769.9 394 771.3 395 770.8 396 770.9 397 771.4 398 771.0 399 772.0 400 771.4 401 771.8 402 770.6 403 770.8 404 771.7 405 771.6 406 771.1 407 771.4 408 772.7 409 772.3 410 772.5 411 772.3 412 772.5 413 772.3 414 771.8 415 771.3 416 771.6 417 772.4 418 772.9 419 773.0 420 772.1 421 771.7 422 771.8 423 772.0 424 772.3 425 772.2 426 772.9 427 772.8 428 772.5 429 773.7 430 772.7 431 772.8 432 773.2 433 773.3 434 773.5 435 773.1 436 772.2 437 772.3 438 772.4 439 772.6 440 773.1 441 772.6 442 772.0 443 772.0 444 772.5 445 772.9 446 773.2 447 773.4 448 772.8 449 772.4 450 772.1 451 772.0 452 772.5 453 772.6 454 772.2 455 772.0 456 772.2 457 773.0 458 772.9 459 773.3 460 772.7 461 773.1 462 772.9 463 772.3 464 771.8 465 772.2 466 772.3 467 773.0 468 772.4 469 772.5 470 771.8 471 771.9 472 771.9 473 771.9 474 771.8 475 771.8 476 771.4 477 771.5 478 771.8 479 771.9 480 771.6 481 771.5 482 771.4 483 771.9 484 772.3 485 772.7 486 772.1 487 771.5 488 771.5 489 772.1 490 772.2 491 772.7 492 772.7 493 772.4 494 772.2 495 771.6 496 772.0 497 772.1 498 772.6 499 772.7 500 771.7 501 771.1 502 771.8 503 772.4 504 773.0 505 772.3 506 772.3 507 772.5 508 772.3 509 771.6 510 771.5 511 771.4 512 771.5 513 771.3 514 771.5 515 771.8 516 772.2 517 771.7 518 772.2 519 772.5 520 772.6 521 772.7 522 771.9 523 772.3 524 772.0 525 772.0 526 773.0 527 771.8 528 772.5 529 771.9 530 772.2 531 772.2 532 772.4 533 772.4 534 771.8 535 771.7 536 771.6 537 772.1 538 772.0 539 771.4 540 771.7 541 771.0 542 771.7 543 771.5 544 770.7 545 770.5 546 770.5 547 770.3 548 769.8 549 768.9 550 768.7 551 769.3 552 768.6 553 768.0 554 767.2 555 767.1 556 766.3 557 766.0 558 765.7 559 764.9 560 763.6 561 763.5 562 762.2 563 760.9 564 759.6 565 758.9 566 757.8 567 756.9 568 754.8 569 752.8 570 751.3 571 750.4 572 749.4 573 747.2 574 746.0 575 744.5 576 742.1 577 740.9 578 738.8 579 738.0 580 736.1 581 734.7 582 733.5 583 731.9 584 731.4 585 730.3 586 729.7 587 728.6 588 727.8 589 728.2 590 727.3 591 727.2 592 726.8 593 726.0 594 725.7 595 726.5 596 727.2 597 728.0 598 728.5 599 729.1 600 728.9 601 729.1 602 730.0 603 730.6 604 732.9 605 734.2 606 735.9 607 737.2 608 738.3 609 739.3 610 740.0 611 741.9 612 742.4 613 743.6 614 743.8 615 744.5 616 746.6 617 747.0 618 748.4 619 749.3 620 749.9 621 749.7 622 749.9 623 751.3 624 752.2 625 752.5 626 753.2 627 754.3 628 754.9 629 755.1 630 756.1 631 756.7 632 756.8 633 758.2 634 758.5 635 759.3 636 760.6 637 761.3 638 761.8 639 761.9 640 762.0 641 762.5 642 762.7 643 763.2 644 762.8 645 763.4 646 764.2 647 764.5 648 764.4 649 764.6 650 765.2 651 765.7 652 765.6 653 765.3 654 766.1 655 767.2 656 767.0 657 767.5 658 766.6 659 767.7 660 768.0 661 767.9 662 768.0 663 768.6 664 768.2 665 769.1 666 769.7 667 769.6 668 769.9 669 769.8 670 770.7 671 770.3 672 770.7 673 770.4 674 770.7 675 771.1 676 770.8 677 771.7 678 771.6 679 772.2 680 772.9 681 772.2 682 772.4 683 771.7 684 771.9 685 771.2 686 772.3 687 772.9 688 772.1 689 772.1 690 772.3 691 772.8 692 772.4 693 772.9 694 772.9 695 773.2 696 772.7 697 772.0 698 771.9 699 772.0 700 771.9 701 772.7 702 772.4 703 773.1 704 772.6 705 772.2 706 772.0 707 772.8 708 772.8 709 772.2 710 771.8 711 772.4 712 772.2 713 772.1 714 773.3 715 773.4 716 773.1 717 772.8 718 772.1 719 771.4 720 771.8 721 771.4 722 771.8 723 771.9 724 772.6 725 773.0 726 772.8 727 771.9 728 771.4 729 772.0 730 771.6 731 772.8 732 772.8 733 771.9 734 771.7 735 771.8 736 771.8 737 772.4 738 772.3 739 772.4 740 772.7 741 772.6 742 772.5 743 773.0 744 773.3 745 772.9 746 772.6 747 771.8 748 772.1 749 771.9 750 771.6 751 772.3 752 772.5 753 772.4 754 772.3 755 773.0 756 771.9 757 772.0 758 772.4 759 773.2 760 772.9 761 772.3 762 772.4 763 772.2 764 771.7 765 772.3 766 772.0 767 771.6 768 772.0 769 772.1 770 772.2 771 771.8 772 771.9 773 771.8 774 771.2 775 772.0 776 772.0 777 771.6 778 772.7 779 772.3 780 772.3 781 772.5 782 772.6 783 773.2 784 772.9 785 772.7 786 771.5 787 771.8 788 771.8 789 772.4 790 772.6 791 772.9 792 772.9 793 772.4 794 771.5 795 771.7 796 771.5 797 771.9 798 772.8 799 773.4 800 772.9 801 772.7 802 773.5 803 772.9 804 772.6 805 772.6 806 772.9 807 772.3 808 772.2 809 772.6 810 772.7 811 772.4 812 772.7 813 772.2 814 772.9 815 772.9 816 772.6 817 772.4 818 772.2 819 772.4 820 773.4 821 772.7 822 772.7 823 773.2 824 773.7 825 773.1 826 772.4 827 771.5 828 771.4 829 772.4 830 772.6 831 772.4 832 772.7 833 772.9 834 772.4 835 772.2 836 772.9 837 772.6 838 772.8 839 772.9 840 773.0 841 772.5 842 772.6 843 772.3 844 772.7 845 772.2 846 771.9 847 772.7 848 773.0 849 772.2 850 771.9 851 772.3 852 772.1 853 771.4 854 771.2 855 771.8 856 772.4 857 772.4 858 771.5 859 772.0 860 772.0 861 771.8 862 772.1 863 772.5 864 772.6 865 772.7 866 772.4 867 772.2 868 771.3 869 772.1 870 772.8 871 772.3 872 772.4 873 772.2 874 771.9 875 771.5 876 771.8 877 772.7 878 772.9 879 772.3 880 772.4 881 772.2 882 772.1 883 772.3 884 771.8 885 771.6 886 771.1 887 772.3 888 773.3 889 772.9 890 771.8 891 772.2 892 771.9 893 771.7 894 771.6 895 771.9 896 772.2 897 772.4 898 771.5 899 771.7 900 772.2 901 773.3 902 772.6 903 772.5 904 772.1 905 772.6 906 772.3 907 771.8 908 772.0 909 772.9 910 772.6 911 772.3 912 772.8 913 772.0 914 771.4 915 772.4 916 772.5 917 773.2 918 772.6 919 772.6 920 772.0 921 772.7 922 772.4 923 772.1 924 771.7 925 771.9 926 771.2 927 771.4 928 771.0 929 771.2 930 771.1 931 771.0 932 772.2 933 771.9 934 772.1 935 771.9 936 772.2 937 773.1 938 772.6 939 772.9 940 772.8 941 772.4 942 772.4 943 772.6 944 772.9 945 772.1 946 772.8 947 772.3 948 771.7 949 772.0 950 771.9 951 772.2 952 771.8 953 772.7 954 772.1 955 772.2 956 772.3 957 772.2 958 772.0 959 771.7 960 771.5 961 771.5 962 770.9 963 770.6 964 771.2 965 771.6 966 771.7 967 771.9 968 772.4 969 772.7 970 772.8 971 772.7 972 771.9 973 771.4 974 770.9 975 772.5 976 771.9 977 771.8 978 771.4 979 772.0 980 772.0 981 773.0 982 772.4 983 772.2 984 771.7 985 771.5 986 771.5 987 771.1 988 771.5 989 771.8 990 772.9 991 771.5 992 771.8 993 771.3 994 771.6 995 772.1 996 771.5 997 771.8 998 771.8 999 772.3 1000 771.9 1001 772.4 1002 772.6 1003 772.5 1004 772.1 1005 772.7 1006 772.7 1007 772.6 1008 771.6 1009 772.3 1010 772.7 1011 772.5 1012 772.9 1013 772.5 1014 772.3 1015 772.1 1016 772.7 1017 772.2 1018 772.4 1019 772.0 1020 771.7 1021 772.1 1022 772.7 1023 771.3 1024 772.2 1025 772.2 1026 771.8 1027 772.0 1028 771.9 1029 771.8 1030 771.5 1031 771.6 1032 772.4 1033 771.8 1034 771.3 1035 772.0 1036 771.9 1037 771.9 1038 771.5 1039 771.1 1040 771.1 1041 771.8 1042 771.9 1043 772.8 1044 772.8 1045 772.6 1046 771.8 1047 772.2 1048 773.2 1049 772.1 1050 771.3 1051 772.3 1052 772.0 1053 772.2 1054 772.2 1055 772.1 1056 771.8 1057 772.1 1058 772.4 1059 772.2 1060 772.1 1061 772.0 1062 771.9 1063 771.7 1064 771.2 1065 771.8 1066 771.6 1067 772.6 1068 772.0 1069 772.5 1070 772.3 1071 771.7 1072 772.3 1073 772.9 1074 772.8 1075 772.9 1076 772.4 1077 772.1 1078 772.0 1079 771.4 1080 771.3 1081 772.4 1082 771.4 1083 771.7 1084 771.8 1085 771.9 1086 771.7 1087 770.8 1088 771.5 1089 771.4 1090 771.4 1091 771.5 1092 771.3 1093 771.7 1094 771.1 1095 771.2 1096 771.1 1097 770.9 1098 770.4 1099 770.3 1100 770.5 1101 769.8 1102 770.0 1103 770.0 1104 769.7 1105 770.2 1106 769.8 1107 769.8 1108 769.9 1109 769.6 1110 769.8 1111 768.7 1112 769.1 1113 768.1 1114 768.7 1115 768.9 1116 770.2 1117 769.7 1118 768.8 1119 769.0 1120 768.3 1121 768.4 1122 768.1 1123 767.5 1124 767.8 1125 768.2 1126 767.8 1127 767.8 1128 767.6 1129 767.6 1130 767.8 1131 768.2 1132 768.1 1133 767.1 1134 767.5 1135 767.7 1136 767.7 1137 767.3 1138 767.4 1139 767.9 1140 767.5 1141 767.4 1142 767.8 1143 767.8 1144 767.6 1145 766.8 1146 767.1 1147 767.3 1148 767.4 1149 767.9 1150 768.3 1151 768.0 1152 768.3 1153 768.4 1154 767.8 1155 768.7 1156 768.3 1157 769.0 1158 768.3 1159 768.8 1160 769.4 1161 769.0 1162 769.7 1163 769.8 1164 770.7 1165 770.6 1166 770.7 1167 770.7 1168 770.7 1169 770.4 1170 770.7 1171 771.0 1172 770.7 1173 771.4 1174 771.0 1175 771.0 1176 770.4 1177 770.6 1178 770.8 1179 770.5 1180 770.8 1181 771.1 1182 771.2 1183 771.5 1184 771.6 1185 772.0 1186 772.7 1187 772.2 1188 772.2 1189 771.7 1190 771.8 1191 771.4 1192 771.8 1193 772.2 1194 772.3 1195 772.1 1196 772.4 1197 772.0 1198 771.7 1199 772.0 1200 771.6 1201 771.8 1202 771.1 1203 772.3 1204 772.5 1205 772.9 1206 772.4 1207 772.1 1208 772.1 1209 772.0 1210 772.3 1211 772.8 1212 772.5 1213 772.1 1214 772.6 1215 772.1 1216 772.2 1217 772.9 1218 772.7 1219 772.4 1220 772.0 1221 772.3 1222 772.5 1223 772.2 1224 772.2 1225 772.4 1226 772.2 1227 771.7 1228 772.1 1229 772.3 1230 772.2 1231 772.0 1232 772.1 1233 772.3 1234 772.1 1235 771.9 1236 772.0 1237 772.4 1238 773.3 1239 772.9 1240 772.3 1241 772.5 1242 772.4 1243 772.2 1244 772.2 1245 772.1 1246 771.0 1247 770.6 1248 772.0 1249 772.4 1250 772.6 1251 772.5 1252 772.1 1253 772.6 1254 772.7 1255 773.1 1256 772.0 1257 772.0 1258 772.1 1259 772.0 1260 772.3 1261 772.3 1262 772.5 1263 772.1 1264 772.4 1265 772.3 1266 772.9 1267 772.2 1268 772.1 1269 772.0 1270 771.9 1271 771.7 1272 771.6 1273 772.2 1274 772.8 1275 772.6 1276 773.7 1277 773.0 1278 772.4 1279 772.6 1280 772.6 1281 772.6 1282 773.0 1283 773.2 1284 772.3 1285 772.5 1286 771.7 1287 771.8 1288 771.5 1289 772.5 1290 772.0 1291 771.7 1292 772.7 1293 772.7 1294 772.1 1295 772.2 1296 772.5 1297 771.9 1298 772.8 1299 772.2 1300 772.3 1301 771.2 1302 771.6 1303 772.2 1304 772.5 1305 772.6 1306 772.3 1307 773.1 1308 773.1 1309 772.7 1310 772.6 1311 773.1 1312 772.3 1313 771.9 1314 772.3 1315 771.9 1316 771.8 1317 771.9 1318 772.7 1319 772.1 1320 772.0 1321 772.7 1322 772.2 1323 771.2 1324 771.7 1325 771.9 1326 771.9 1327 771.8 1328 771.0 1329 771.6 1330 772.1 1331 772.0 1332 772.1 1333 771.9 1334 772.0 1335 771.7 1336 771.6 1337 772.1" stroke="#EE3B3F" stroke-width="9.0"/>
<path d="M82.5 903.5 83 903.2 84 903.5 85 903.2 86 903.9 87 903.9 88 903.4 89 904.3 90 904.4 91 904.0 92 904.4 93 904.2 94 903.8 95 903.8 96 904.5 97 903.7 98 903.5 99 903.2 100 903.8 101 904.0 102 904.1 103 903.6 104 904.1 105 903.5 106 903.8 107 904.1 108 903.8 109 904.1 110 904.3 111 903.9 112 903.6 113 903.4 114 903.6 115 903.3 116 903.3 117 904.0 118 903.8 119 903.8 120 903.7 121 903.6 122 904.3 123 904.2 124 903.6 125 903.8 126 904.1 127 903.9 128 903.5 129 903.5 130 903.8 131 904.0 132 904.0 133 903.5 134 903.8 135 903.6 136 903.1 137 903.3 138 903.1 139 903.0 140 903.4 141 903.9 142 903.6 143 904.2 144 903.6 145 904.0 146 904.1 147 903.8 148 903.5 149 903.8 150 903.0 151 903.5 152 903.8 153 903.4 154 903.3 155 903.8 156 903.2 157 903.7 158 903.2 159 904.2 160 903.6 161 903.5 162 904.0 163 904.0 164 903.6 165 903.2 166 903.6 167 903.7 168 903.2 169 903.4 170 903.4 171 903.6 172 903.1 173 903.8 174 904.2 175 903.8 176 903.7 177 903.9 178 903.3 179 903.3 180 902.8 181 903.3 182 903.4 183 903.1 184 903.8 185 903.6 186 903.9 187 903.1 188 903.3 189 903.4 190 903.1 191 903.4 192 903.8 193 903.9 194 904.7 195 904.7 196 904.6 197 903.4 198 903.3 199 903.6 200 902.2 201 902.6 202 903.3 203 903.0 204 902.9 205 901.7 206 902.3 207 901.5 208 901.6 209 901.4 210 901.3 211 901.5 212 901.4 213 900.3 214 900.1 215 899.6 216 899.6 217 899.9 218 898.8 219 898.3 220 897.9 221 898.4 222 898.4 223 898.2 224 897.4 225 897.3 226 896.8 227 895.7 228 895.3 229 895.0 230 894.3 231 894.4 232 893.1 233 892.4 234 892.3 235 892.1 236 892.1 237 891.2 238 891.1 239 890.3 240 889.6 241 888.8 242 887.6 243 887.4 244 887.3 245 886.2 246 886.5 247 885.4 248 885.6 249 884.7 250 883.3 251 882.4 252 881.7 253 881.6 254 880.9 255 880.2 256 878.7 257 878.5 258 877.7 259 877.4 260 876.3 261 875.4 262 875.2 263 874.0 264 873.2 265 871.8 266 870.6 267 869.5 268 868.4 269 868.3 270 867.3 271 865.9 272 864.2 273 862.1 274 860.7 275 858.9 276 858.4 277 856.8 278 855.0 279 853.3 280 852.8 281 850.9 282 849.0 283 847.7 284 846.0 285 845.3 286 843.6 287 841.6 288 839.5 289 838.2 290 835.3 291 833.1 292 831.2 293 829.1 294 826.9 295 824.5 296 823.1 297 820.8 298 818.7 299 817.8 300 815.4 301 814.0 302 811.0 303 808.5 304 806.5 305 803.8 306 801.6 307 799.0 308 796.7 309 793.8 310 791.9 311 790.4 312 787.7 313 786.9 314 785.3 315 783.6 316 782.7 317 780.7 318 778.0 319 776.6 320 774.7 321 774.4 322 772.9 323 770.2 324 768.8 325 766.8 326 765.8 327 764.4 328 763.4 329 764.5 330 764.9 331 767.0 332 769.4 333 771.1 334 774.7 335 776.8 336 779.6 337 783.1 338 785.4 339 788.3 340 790.4 341 792.8 342 794.8 343 798.0 344 801.4 345 805.3 346 809.5 347 814.6 348 819.5 349 824.6 350 827.3 351 831.0 352 833.5 353 837.6 354 841.0 355 843.3 356 847.0 357 849.9 358 853.5 359 856.2 360 859.2 361 861.3 362 863.6 363 865.7 364 867.4 365 870.0 366 872.5 367 874.7 368 875.6 369 877.2 370 878.9 371 879.8 372 881.6 373 883.2 374 885.4 375 886.6 376 887.3 377 888.7 378 890.0 379 891.2 380 892.0 381 894.2 382 894.6 383 895.7 384 896.3 385 897.2 386 897.9 387 898.3 388 899.0 389 899.7 390 900.8 391 900.5 392 901.6 393 901.8 394 902.1 395 902.7 396 903.0 397 903.1 398 903.4 399 902.8 400 903.7 401 903.3 402 902.8 403 902.6 404 903.0 405 903.1 406 903.3 407 903.5 408 904.4 409 904.6 410 904.7 411 903.9 412 903.9 413 904.6 414 903.7 415 903.8 416 904.1 417 902.7 418 902.7 419 903.2 420 904.0 421 903.5 422 903.6 423 903.8 424 904.0 425 904.6 426 904.3 427 903.7 428 904.5 429 904.3 430 904.6 431 904.2 432 904.9 433 904.7 434 903.6 435 903.9 436 902.8 437 903.5 438 903.6 439 903.4 440 904.2 441 903.6 442 903.7 443 904.4 444 904.1 445 904.2 446 903.1 447 902.6 448 903.4 449 903.7 450 904.0 451 904.3 452 904.0 453 903.5 454 904.3 455 904.0 456 904.2 457 903.9 458 903.6 459 903.5 460 904.3 461 903.7 462 903.7 463 903.6 464 902.8 465 903.3 466 903.0 467 903.5 468 903.6 469 904.7 470 904.2 471 904.6 472 904.3 473 904.4 474 903.3 475 903.4 476 902.4 477 903.2 478 902.8 479 903.0 480 903.6 481 903.3 482 903.4 483 903.2 484 903.0 485 903.0 486 902.8 487 902.5 488 902.4 489 902.9 490 903.3 491 903.8 492 903.8 493 903.2 494 904.0 495 903.0 496 904.1 497 903.9 498 903.1 499 903.2 500 904.1 501 904.3 502 903.4 503 903.3 504 903.3 505 903.3 506 903.6 507 904.7 508 904.1 509 904.5 510 904.5 511 904.2 512 903.8 513 904.0 514 903.5 515 903.0 516 903.5 517 903.7 518 903.2 519 903.6 520 903.5 521 903.5 522 902.8 523 902.4 524 903.5 525 903.9 526 903.9 527 903.9 528 904.4 529 903.8 530 904.2 531 904.7 532 904.8 533 904.7 534 904.1 535 904.0 536 904.5 537 904.3 538 903.2 539 902.8 540 902.5 541 902.1 542 902.2 543 902.0 544 902.7 545 902.9 546 902.7 547 901.8 548 902.4 549 901.9 550 902.0 551 901.5 552 900.3 553 901.0 554 900.9 555 901.2 556 900.2 557 899.4 558 899.1 559 898.4 560 898.2 561 897.6 562 896.5 563 896.6 564 896.0 565 894.4 566 892.7 567 891.8 568 891.4 569 890.6 570 889.0 571 888.2 572 887.0 573 885.6 574 883.5 575 882.0 576 881.4 577 879.7 578 878.0 579 876.8 580 875.5 581 874.8 582 874.5 583 872.3 584 872.1 585 870.9 586 870.0 587 869.5 588 869.5 589 868.9 590 868.8 591 868.2 592 868.1 593 867.8 594 868.4 595 868.8 596 869.2 597 870.2 598 870.7 599 871.1 600 871.4 601 872.8 602 873.6 603 874.9 604 876.0 605 877.1 606 877.7 607 879.0 608 879.8 609 881.4 610 881.5 611 883.0 612 882.2 613 883.9 614 884.7 615 885.9 616 886.3 617 885.9 618 886.0 619 886.8 620 887.5 621 888.9 622 888.8 623 889.3 624 889.9 625 890.8 626 891.3 627 892.4 628 893.2 629 892.9 630 893.0 631 893.0 632 893.5 633 894.2 634 894.5 635 895.0 636 895.5 637 896.3 638 897.1 639 897.3 640 897.9 641 897.5 642 897.8 643 897.4 644 898.0 645 898.2 646 898.6 647 898.8 648 899.2 649 899.8 650 899.7 651 899.8 652 899.3 653 899.4 654 899.8 655 899.8 656 899.7 657 900.4 658 899.7 659 900.5 660 900.9 661 900.5 662 900.8 663 900.1 664 901.4 665 900.9 666 900.3 667 900.6 668 901.3 669 901.9 670 901.8 671 901.9 672 901.9 673 902.5 674 901.8 675 902.3 676 902.9 677 903.2 678 903.3 679 902.9 680 902.7 681 903.6 682 903.7 683 903.1 684 903.3 685 903.5 686 904.1 687 903.2 688 903.7 689 903.5 690 902.9 691 903.4 692 903.7 693 903.8 694 903.9 695 903.3 696 903.0 697 903.3 698 903.3 699 902.6 700 903.5 701 904.2 702 903.8 703 903.8 704 904.1 705 904.8 706 904.9 707 904.2 708 903.4 709 904.0 710 903.1 711 903.3 712 903.6 713 903.2 714 902.5 715 902.7 716 903.5 717 903.2 718 903.8 719 904.8 720 903.5 721 903.4 722 903.0 723 902.6 724 903.7 725 903.1 726 904.1 727 903.2 728 903.0 729 903.3 730 903.7 731 903.6 732 903.5 733 903.5 734 903.1 735 903.3 736 903.3 737 904.0 738 903.3 739 903.1 740 903.5 741 904.1 742 903.0 743 903.1 744 902.4 745 903.2 746 903.2 747 903.4 748 903.1 749 902.9 750 903.7 751 903.1 752 902.8 753 903.5 754 903.7 755 903.4 756 903.7 757 903.2 758 904.0 759 903.7 760 904.1 761 904.0 762 904.1 763 904.2 764 903.7 765 903.6 766 904.0 767 903.7 768 904.0 769 903.3 770 903.8 771 904.2 772 903.7 773 904.6 774 903.5 775 904.1 776 903.8 777 903.6 778 903.0 779 902.9 780 904.2 781 903.8 782 904.3 783 903.8 784 903.3 785 903.0 786 903.9 787 903.8 788 903.5 789 903.7 790 904.1 791 903.5 792 904.7 793 904.1 794 904.7 795 903.9 796 903.5 797 903.4 798 903.5 799 903.4 800 903.6 801 903.5 802 903.4 803 904.2 804 904.4 805 903.8 806 904.5 807 903.5 808 903.6 809 903.8 810 903.5 811 903.3 812 903.4 813 904.6 814 903.8 815 903.4 816 903.1 817 903.7 818 903.9 819 903.8 820 904.1 821 903.1 822 904.2 823 905.0 824 904.5 825 903.4 826 902.8 827 902.2 828 902.8 829 903.7 830 903.1 831 902.5 832 903.7 833 903.0 834 902.4 835 903.3 836 903.5 837 904.1 838 903.4 839 903.1 840 904.3 841 903.6 842 904.5 843 903.7 844 904.1 845 903.8 846 903.7 847 903.4 848 903.9 849 903.8 850 903.4 851 903.3 852 904.1 853 904.2 854 903.5 855 903.5 856 904.0 857 903.0 858 903.6 859 902.9 860 903.3 861 903.4 862 902.6 863 903.5 864 903.5 865 902.6 866 903.0 867 903.1 868 903.5 869 903.7 870 903.5 871 903.8 872 903.6 873 903.7 874 903.3 875 904.2 876 904.7 877 904.3 878 904.2 879 903.8 880 903.6 881 903.7 882 903.4 883 903.4 884 903.8 885 902.8 886 902.4 887 903.2 888 903.8 889 903.3 890 903.2 891 903.5 892 902.4 893 902.7 894 902.9 895 903.0 896 904.2 897 904.0 898 904.1 899 904.0 900 903.8 901 903.4 902 904.0 903 904.2 904 904.4 905 904.1 906 904.1 907 903.7 908 903.7 909 903.1 910 903.6 911 904.7 912 904.6 913 904.3 914 903.8 915 904.9 916 904.6 917 903.9 918 903.7 919 903.3 920 902.7 921 902.5 922 903.2 923 902.3 924 903.0 925 902.6 926 903.2 927 903.7 928 903.0 929 902.7 930 903.1 931 903.1 932 903.5 933 903.2 934 903.8 935 903.6 936 903.3 937 903.7 938 904.8 939 904.6 940 904.3 941 903.8 942 903.9 943 903.8 944 903.8 945 904.2 946 904.4 947 904.1 948 904.6 949 904.0 950 903.8 951 904.0 952 903.6 953 904.0 954 904.4 955 905.3 956 904.9 957 904.8 958 905.0 959 904.2 960 903.9 961 903.6 962 904.0 963 904.5 964 903.9 965 902.9 966 903.0 967 903.0 968 903.7 969 903.6 970 903.3 971 903.8 972 902.9 973 903.0 974 902.8 975 903.4 976 903.3 977 903.6 978 903.8 979 903.8 980 903.9 981 903.0 982 903.9 983 903.6 984 903.2 985 903.6 986 904.8 987 903.6 988 904.2 989 903.5 990 903.9 991 903.3 992 903.5 993 903.6 994 904.1 995 904.3 996 904.3 997 904.1 998 904.4 999 904.3 1000 904.6 1001 904.2 1002 903.1 1003 903.7 1004 903.3 1005 903.5 1006 903.6 1007 904.0 1008 903.9 1009 903.7 1010 904.0 1011 904.3 1012 904.1 1013 904.3 1014 903.6 1015 903.8 1016 904.3 1017 904.1 1018 904.3 1019 904.6 1020 903.9 1021 903.7 1022 903.9 1023 904.0 1024 903.4 1025 903.2 1026 903.8 1027 903.0 1028 903.8 1029 903.3 1030 903.5 1031 902.8 1032 902.3 1033 903.1 1034 903.4 1035 902.7 1036 902.8 1037 903.3 1038 902.4 1039 902.5 1040 903.0 1041 902.9 1042 903.6 1043 903.1 1044 901.9 1045 902.4 1046 902.8 1047 902.7 1048 903.4 1049 903.3 1050 903.1 1051 903.4 1052 903.2 1053 903.9 1054 903.8 1055 904.1 1056 903.9 1057 903.6 1058 904.1 1059 904.0 1060 903.4 1061 902.5 1062 903.5 1063 903.5 1064 904.0 1065 903.1 1066 904.2 1067 903.3 1068 903.9 1069 903.8 1070 903.9 1071 903.9 1072 904.5 1073 904.6 1074 904.7 1075 903.6 1076 903.8 1077 903.8 1078 904.2 1079 904.2 1080 903.6 1081 902.8 1082 903.3 1083 903.0 1084 903.6 1085 903.5 1086 903.5 1087 903.7 1088 902.8 1089 903.4 1090 904.2 1091 903.5 1092 903.1 1093 903.2 1094 903.8 1095 904.2 1096 903.5 1097 903.5 1098 903.3 1099 903.1 1100 902.6 1101 903.3 1102 902.8 1103 902.7 1104 901.9 1105 901.8 1106 901.7 1107 901.2 1108 901.6 1109 901.4 1110 902.4 1111 902.0 1112 901.2 1113 901.0 1114 899.4 1115 899.7 1116 900.2 1117 899.5 1118 900.4 1119 900.4 1120 900.7 1121 900.1 1122 899.1 1123 899.4 1124 899.2 1125 899.5 1126 899.7 1127 899.0 1128 898.2 1129 899.3 1130 899.0 1131 899.3 1132 899.6 1133 899.1 1134 899.5 1135 899.2 1136 899.0 1137 900.1 1138 900.3 1139 900.7 1140 900.1 1141 899.6 1142 900.1 1143 899.4 1144 900.9 1145 900.1 1146 901.1 1147 901.6 1148 901.8 1149 902.2 1150 901.2 1151 901.7 1152 901.7 1153 902.3 1154 903.2 1155 902.7 1156 902.5 1157 902.6 1158 902.8 1159 902.3 1160 902.3 1161 902.9 1162 903.2 1163 903.5 1164 903.7 1165 903.3 1166 903.5 1167 903.5 1168 904.1 1169 903.6 1170 903.1 1171 903.3 1172 903.7 1173 903.7 1174 902.8 1175 903.5 1176 902.9 1177 903.1 1178 903.8 1179 903.6 1180 903.3 1181 903.8 1182 903.2 1183 903.7 1184 903.8 1185 903.7 1186 902.9 1187 902.2 1188 903.1 1189 903.6 1190 904.5 1191 903.3 1192 903.7 1193 904.5 1194 904.6 1195 904.6 1196 903.7 1197 904.5 1198 904.5 1199 904.8 1200 903.8 1201 903.8 1202 903.9 1203 903.8 1204 902.9 1205 902.8 1206 903.3 1207 904.2 1208 904.1 1209 903.8 1210 904.2 1211 903.7 1212 902.9 1213 902.6 1214 904.4 1215 903.2 1216 903.2 1217 903.2 1218 903.6 1219 904.0 1220 904.4 1221 903.1 1222 903.4 1223 903.3 1224 904.3 1225 904.1 1226 904.1 1227 903.4 1228 904.0 1229 903.6 1230 903.7 1231 903.8 1232 903.1 1233 903.3 1234 903.7 1235 903.9 1236 904.2 1237 903.5 1238 903.2 1239 903.5 1240 903.5 1241 903.4 1242 903.2 1243 902.8 1244 902.7 1245 902.9 1246 902.6 1247 903.6 1248 904.3 1249 904.1 1250 903.8 1251 903.0 1252 903.2 1253 902.9 1254 903.2 1255 904.4 1256 903.8 1257 903.3 1258 902.9 1259 903.2 1260 904.3 1261 903.5 1262 902.9 1263 903.6 1264 903.2 1265 903.1 1266 902.7 1267 902.8 1268 903.0 1269 903.2 1270 903.4 1271 903.9 1272 903.2 1273 902.9 1274 902.8 1275 903.7 1276 903.8 1277 903.5 1278 904.0 1279 904.3 1280 904.4 1281 904.3 1282 903.2 1283 904.0 1284 904.2 1285 903.6 1286 903.8 1287 903.7 1288 903.4 1289 903.5 1290 903.9 1291 904.1 1292 904.4 1293 904.7 1294 902.7 1295 902.8 1296 903.4 1297 903.3 1298 903.9 1299 903.5 1300 904.5 1301 904.3 1302 904.4 1303 904.2 1304 903.8 1305 903.7 1306 903.1 1307 903.8 1308 903.5 1309 903.2 1310 904.4 1311 903.7 1312 903.0 1313 903.6 1314 903.7 1315 903.3 1316 903.6 1317 903.5 1318 903.2 1319 903.2 1320 903.3 1321 903.5 1322 903.3 1323 903.5 1324 903.5 1325 904.2 1326 903.2 1327 903.0 1328 903.2 1329 903.6 1330 903.5 1331 903.1 1332 903.5 1333 902.6 1334 902.8 1335 903.0 1336 902.7 1337 902.7" stroke="#505050" stroke-width="9.0"/>
</g>
<g fill="#000"><polygon points="136.0,192.7 138.5,198.7 145.0,199.3 140.1,203.5 141.6,209.9 136.0,206.5 130.4,209.9 131.9,203.5 127.0,199.3 133.5,198.7"/><polygon points="287.7,162.2 290.2,168.2 296.7,168.8 291.8,173.0 293.3,179.4 287.7,176.0 282.1,179.4 283.6,173.0 278.7,168.8 285.2,168.2"/><polygon points="355.7,181.8 358.2,187.8 364.7,188.4 359.8,192.6 361.3,199.0 355.7,195.6 350.1,199.0 351.6,192.6 346.7,188.4 353.2,187.8"/><polygon points="455.7,179.3 458.2,185.3 464.7,185.9 459.8,190.1 461.3,196.5 455.7,193.1 450.1,196.5 451.6,190.1 446.7,185.9 453.2,185.3"/><polygon points="742.5,195.1 745.0,201.1 751.5,201.7 746.6,205.9 748.1,212.3 742.5,208.9 736.9,212.3 738.4,205.9 733.5,201.7 740.0,201.1"/><polygon points="832.6,190.6 835.1,196.6 841.6,197.2 836.7,201.4 838.2,207.8 832.6,204.4 827.0,207.8 828.5,201.4 823.6,197.2 830.1,196.6"/><polygon points="942.8,191.1 945.3,197.1 951.8,197.7 946.9,201.9 948.4,208.3 942.8,204.9 937.2,208.3 938.7,201.9 933.8,197.7 940.3,197.1"/><polygon points="1071.9,192.9 1074.4,198.9 1080.9,199.5 1076.0,203.7 1077.5,210.1 1071.9,206.7 1066.3,210.1 1067.8,203.7 1062.9,199.5 1069.4,198.9"/><polygon points="251.7,106.2 242.7,122.5 260.7,122.5"/><polygon points="341.2,168.4 332.2,185.0 350.2,185.0"/><polygon points="416.0,104.7 407.0,121.0 425.0,121.0"/><polygon points="469.5,115.7 460.5,132.0 478.5,132.0"/><polygon points="483.1,107.4 474.1,123.3 492.1,123.3"/><polygon points="538.0,155.8 529.0,172.0 547.0,172.0"/><polygon points="584.9,173.6 575.9,189.4 593.9,189.4"/><polygon points="611.1,167.1 602.1,182.9 620.1,182.9"/><polygon points="909.5,188.1 900.5,203.4 918.5,203.4"/><polygon points="961.1,190.6 952.1,206.8 970.1,206.8"/><polygon points="1020.5,188.4 1011.5,204.2 1029.5,204.2"/><circle cx="327.8" cy="748" r="8.3"/><circle cx="591.2" cy="853.9" r="8.2"/></g>
<g font-size="50"><text x="83.3" y="1016" text-anchor="middle">10</text><text x="240.0" y="1016" text-anchor="middle">20</text><text x="396.7" y="1016" text-anchor="middle">30</text><text x="553.4" y="1016" text-anchor="middle">40</text><text x="710.1" y="1016" text-anchor="middle">50</text><text x="866.8" y="1016" text-anchor="middle">60</text><text x="1023.5" y="1016" text-anchor="middle">70</text><text x="1180.2" y="1016" text-anchor="middle">80</text><text x="1336.9" y="1016" text-anchor="middle">90</text></g>
<text x="716" y="1073.5" font-size="57">2θ/°</text>
<text transform="translate(48.8,636.4) rotate(-90)" font-size="58.5" letter-spacing="-0.8">Intensity/a.u.</text>
<g fill="#000">
<circle cx="1139.5" cy="65.1" r="11.4"/>
<polygon points="1139.6,106.5 1127.1,129.3 1152.2,129.3"/>
<polygon points="1139.3,163.7 1142.6,171.7 1151.3,172.4 1144.7,178.1 1146.7,186.5 1139.3,182.0 1131.9,186.5 1133.9,178.1 1127.3,172.4 1136.0,171.7"/>
</g>
<g font-size="53">
<text x="1155" y="76.7">:BN</text>
<text x="1155" y="129.3">:α-Si</text><text x="1275.8" y="129.3">N</text>
<text x="1155" y="186.2">:β-Si</text><text x="1275" y="186.2">N</text>
</g>
<g font-size="33" style="will-change:transform">
<text x="1259.3" y="142.1">3</text><text x="1314.1" y="142.1">4</text>
<text x="1258.5" y="199">3</text><text x="1313.3" y="199">4</text>
</g>
</svg>
</body></html>
